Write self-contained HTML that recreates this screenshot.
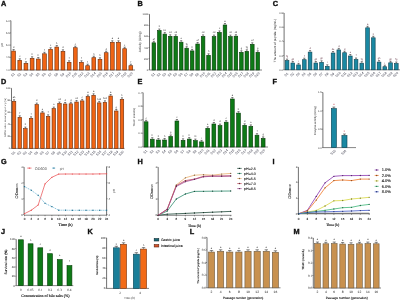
<!DOCTYPE html>
<html><head><meta charset="utf-8"><style>
html,body{margin:0;padding:0;background:#fff;width:400px;height:300px;overflow:hidden;}
svg{display:block;font-family:"Liberation Sans", sans-serif;will-change:transform;text-rendering:geometricPrecision;}
</style></head><body>
<svg width="400" height="300" viewBox="0 0 400 300">
<rect width="400" height="300" fill="#fff"/>
<text x="0.90" y="5.70" font-size="7.3" fill="#111" stroke="#111" stroke-width="0.35" font-weight="bold" font-family='"Liberation Sans", sans-serif'>A</text>
<line x1="10.90" y1="20.70" x2="10.90" y2="69.80" stroke="#333" stroke-width="0.7" />
<line x1="9.90" y1="20.70" x2="10.90" y2="20.70" stroke="#333" stroke-width="0.5" />
<text x="9.70" y="21.61" font-size="2.6" fill="#333" text-anchor="end">6.0</text>
<line x1="9.90" y1="32.90" x2="10.90" y2="32.90" stroke="#333" stroke-width="0.5" />
<text x="9.70" y="33.81" font-size="2.6" fill="#333" text-anchor="end">5.5</text>
<line x1="9.90" y1="45.10" x2="10.90" y2="45.10" stroke="#333" stroke-width="0.5" />
<text x="9.70" y="46.01" font-size="2.6" fill="#333" text-anchor="end">5.0</text>
<line x1="9.90" y1="57.30" x2="10.90" y2="57.30" stroke="#333" stroke-width="0.5" />
<text x="9.70" y="58.21" font-size="2.6" fill="#333" text-anchor="end">4.5</text>
<line x1="9.90" y1="69.80" x2="10.90" y2="69.80" stroke="#333" stroke-width="0.5" />
<text x="9.70" y="70.71" font-size="2.6" fill="#333" text-anchor="end">4.0</text>
<line x1="10.90" y1="70.00" x2="135.00" y2="70.00" stroke="#333" stroke-width="0.6" />
<rect x="11.70" y="51.05" width="3.80" height="18.95" fill="#F06414" stroke="#6B2A08" stroke-width="0.6"/>
<line x1="13.60" y1="49.55" x2="13.60" y2="50.75" stroke="#222" stroke-width="0.5" />
<line x1="12.50" y1="49.55" x2="14.70" y2="49.55" stroke="#222" stroke-width="0.55" />
<text x="13.60" y="47.85" font-size="2.4" fill="#222" text-anchor="middle">d</text>
<text x="13.70" y="75.60" font-size="3.4" fill="#3a3a4a" text-anchor="middle" transform="rotate(-45 13.70 75.60)">S1</text>
<rect x="17.87" y="60.30" width="3.80" height="9.70" fill="#F06414" stroke="#6B2A08" stroke-width="0.6"/>
<line x1="19.77" y1="58.80" x2="19.77" y2="60.00" stroke="#222" stroke-width="0.5" />
<line x1="18.67" y1="58.80" x2="20.87" y2="58.80" stroke="#222" stroke-width="0.55" />
<text x="19.77" y="57.10" font-size="2.4" fill="#222" text-anchor="middle">c</text>
<text x="19.87" y="75.60" font-size="3.4" fill="#3a3a4a" text-anchor="middle" transform="rotate(-45 19.87 75.60)">S2</text>
<rect x="24.04" y="63.30" width="3.80" height="6.70" fill="#F06414" stroke="#6B2A08" stroke-width="0.6"/>
<line x1="25.94" y1="61.80" x2="25.94" y2="63.00" stroke="#222" stroke-width="0.5" />
<line x1="24.84" y1="61.80" x2="27.04" y2="61.80" stroke="#222" stroke-width="0.55" />
<text x="25.94" y="60.10" font-size="2.4" fill="#222" text-anchor="middle">f</text>
<text x="26.04" y="75.60" font-size="3.4" fill="#3a3a4a" text-anchor="middle" transform="rotate(-45 26.04 75.60)">S3</text>
<rect x="30.21" y="58.30" width="3.80" height="11.70" fill="#F06414" stroke="#6B2A08" stroke-width="0.6"/>
<line x1="32.11" y1="56.80" x2="32.11" y2="58.00" stroke="#222" stroke-width="0.5" />
<line x1="31.01" y1="56.80" x2="33.21" y2="56.80" stroke="#222" stroke-width="0.55" />
<text x="32.11" y="55.10" font-size="2.4" fill="#222" text-anchor="middle">h</text>
<text x="32.21" y="75.60" font-size="3.4" fill="#3a3a4a" text-anchor="middle" transform="rotate(-45 32.21 75.60)">S4</text>
<rect x="36.38" y="59.05" width="3.80" height="10.95" fill="#F06414" stroke="#6B2A08" stroke-width="0.6"/>
<line x1="38.28" y1="57.55" x2="38.28" y2="58.75" stroke="#222" stroke-width="0.5" />
<line x1="37.18" y1="57.55" x2="39.38" y2="57.55" stroke="#222" stroke-width="0.55" />
<text x="38.28" y="55.85" font-size="2.4" fill="#222" text-anchor="middle">h</text>
<text x="38.38" y="75.60" font-size="3.4" fill="#3a3a4a" text-anchor="middle" transform="rotate(-45 38.38 75.60)">S5</text>
<rect x="42.55" y="53.80" width="3.80" height="16.20" fill="#F06414" stroke="#6B2A08" stroke-width="0.6"/>
<line x1="44.45" y1="52.30" x2="44.45" y2="53.50" stroke="#222" stroke-width="0.5" />
<line x1="43.35" y1="52.30" x2="45.55" y2="52.30" stroke="#222" stroke-width="0.55" />
<text x="44.45" y="50.60" font-size="2.4" fill="#222" text-anchor="middle">f</text>
<text x="44.55" y="75.60" font-size="3.4" fill="#3a3a4a" text-anchor="middle" transform="rotate(-45 44.55 75.60)">S6</text>
<rect x="48.72" y="49.30" width="3.80" height="20.70" fill="#F06414" stroke="#6B2A08" stroke-width="0.6"/>
<line x1="50.62" y1="47.80" x2="50.62" y2="49.00" stroke="#222" stroke-width="0.5" />
<line x1="49.52" y1="47.80" x2="51.72" y2="47.80" stroke="#222" stroke-width="0.55" />
<text x="50.62" y="46.10" font-size="2.4" fill="#222" text-anchor="middle">c</text>
<text x="50.72" y="75.60" font-size="3.4" fill="#3a3a4a" text-anchor="middle" transform="rotate(-45 50.72 75.60)">S7</text>
<rect x="54.89" y="47.05" width="3.80" height="22.95" fill="#F06414" stroke="#6B2A08" stroke-width="0.6"/>
<line x1="56.79" y1="45.55" x2="56.79" y2="46.75" stroke="#222" stroke-width="0.5" />
<line x1="55.69" y1="45.55" x2="57.89" y2="45.55" stroke="#222" stroke-width="0.55" />
<text x="56.79" y="43.85" font-size="2.4" fill="#222" text-anchor="middle">b</text>
<text x="56.89" y="75.60" font-size="3.4" fill="#3a3a4a" text-anchor="middle" transform="rotate(-45 56.89 75.60)">S8</text>
<rect x="61.06" y="51.30" width="3.80" height="18.70" fill="#F06414" stroke="#6B2A08" stroke-width="0.6"/>
<line x1="62.96" y1="49.80" x2="62.96" y2="51.00" stroke="#222" stroke-width="0.5" />
<line x1="61.86" y1="49.80" x2="64.06" y2="49.80" stroke="#222" stroke-width="0.55" />
<text x="62.96" y="48.10" font-size="2.4" fill="#222" text-anchor="middle">d</text>
<text x="63.06" y="75.60" font-size="3.4" fill="#3a3a4a" text-anchor="middle" transform="rotate(-45 63.06 75.60)">S9</text>
<rect x="67.23" y="62.30" width="3.80" height="7.70" fill="#F06414" stroke="#6B2A08" stroke-width="0.6"/>
<line x1="69.13" y1="60.80" x2="69.13" y2="62.00" stroke="#222" stroke-width="0.5" />
<line x1="68.03" y1="60.80" x2="70.23" y2="60.80" stroke="#222" stroke-width="0.55" />
<text x="69.13" y="59.10" font-size="2.4" fill="#222" text-anchor="middle">f</text>
<text x="69.23" y="75.60" font-size="3.4" fill="#3a3a4a" text-anchor="middle" transform="rotate(-45 69.23 75.60)">S10</text>
<rect x="73.40" y="47.70" width="3.80" height="22.30" fill="#F06414" stroke="#6B2A08" stroke-width="0.6"/>
<line x1="75.30" y1="46.20" x2="75.30" y2="47.40" stroke="#222" stroke-width="0.5" />
<line x1="74.20" y1="46.20" x2="76.40" y2="46.20" stroke="#222" stroke-width="0.55" />
<text x="75.30" y="44.50" font-size="2.4" fill="#222" text-anchor="middle">c</text>
<text x="75.40" y="75.60" font-size="3.4" fill="#3a3a4a" text-anchor="middle" transform="rotate(-45 75.40 75.60)">S11</text>
<rect x="79.57" y="62.30" width="3.80" height="7.70" fill="#F06414" stroke="#6B2A08" stroke-width="0.6"/>
<line x1="81.47" y1="60.80" x2="81.47" y2="62.00" stroke="#222" stroke-width="0.5" />
<line x1="80.37" y1="60.80" x2="82.57" y2="60.80" stroke="#222" stroke-width="0.55" />
<text x="81.47" y="59.10" font-size="2.4" fill="#222" text-anchor="middle">f</text>
<text x="81.57" y="75.60" font-size="3.4" fill="#3a3a4a" text-anchor="middle" transform="rotate(-45 81.57 75.60)">S12</text>
<rect x="85.74" y="65.70" width="3.80" height="4.30" fill="#F06414" stroke="#6B2A08" stroke-width="0.6"/>
<line x1="87.64" y1="64.20" x2="87.64" y2="65.40" stroke="#222" stroke-width="0.5" />
<line x1="86.54" y1="64.20" x2="88.74" y2="64.20" stroke="#222" stroke-width="0.55" />
<text x="87.64" y="62.50" font-size="2.4" fill="#222" text-anchor="middle">f</text>
<text x="87.74" y="75.60" font-size="3.4" fill="#3a3a4a" text-anchor="middle" transform="rotate(-45 87.74 75.60)">S13</text>
<rect x="91.91" y="57.70" width="3.80" height="12.30" fill="#F06414" stroke="#6B2A08" stroke-width="0.6"/>
<line x1="93.81" y1="56.20" x2="93.81" y2="57.40" stroke="#222" stroke-width="0.5" />
<line x1="92.71" y1="56.20" x2="94.91" y2="56.20" stroke="#222" stroke-width="0.55" />
<text x="93.81" y="54.50" font-size="2.4" fill="#222" text-anchor="middle">h</text>
<text x="93.91" y="75.60" font-size="3.4" fill="#3a3a4a" text-anchor="middle" transform="rotate(-45 93.91 75.60)">S14</text>
<rect x="98.08" y="59.30" width="3.80" height="10.70" fill="#F06414" stroke="#6B2A08" stroke-width="0.6"/>
<line x1="99.98" y1="57.80" x2="99.98" y2="59.00" stroke="#222" stroke-width="0.5" />
<line x1="98.88" y1="57.80" x2="101.08" y2="57.80" stroke="#222" stroke-width="0.55" />
<text x="99.98" y="56.10" font-size="2.4" fill="#222" text-anchor="middle">h</text>
<text x="100.08" y="75.60" font-size="3.4" fill="#3a3a4a" text-anchor="middle" transform="rotate(-45 100.08 75.60)">S15</text>
<rect x="104.25" y="52.70" width="3.80" height="17.30" fill="#F06414" stroke="#6B2A08" stroke-width="0.6"/>
<line x1="106.15" y1="51.20" x2="106.15" y2="52.40" stroke="#222" stroke-width="0.5" />
<line x1="105.05" y1="51.20" x2="107.25" y2="51.20" stroke="#222" stroke-width="0.55" />
<text x="106.15" y="49.50" font-size="2.4" fill="#222" text-anchor="middle">d</text>
<text x="106.25" y="75.60" font-size="3.4" fill="#3a3a4a" text-anchor="middle" transform="rotate(-45 106.25 75.60)">S16</text>
<rect x="110.42" y="42.30" width="3.80" height="27.70" fill="#F06414" stroke="#6B2A08" stroke-width="0.6"/>
<line x1="112.32" y1="40.80" x2="112.32" y2="42.00" stroke="#222" stroke-width="0.5" />
<line x1="111.22" y1="40.80" x2="113.42" y2="40.80" stroke="#222" stroke-width="0.55" />
<text x="112.32" y="39.10" font-size="2.4" fill="#222" text-anchor="middle">a</text>
<text x="112.42" y="75.60" font-size="3.4" fill="#3a3a4a" text-anchor="middle" transform="rotate(-45 112.42 75.60)">S17</text>
<rect x="116.59" y="42.30" width="3.80" height="27.70" fill="#F06414" stroke="#6B2A08" stroke-width="0.6"/>
<line x1="118.49" y1="40.80" x2="118.49" y2="42.00" stroke="#222" stroke-width="0.5" />
<line x1="117.39" y1="40.80" x2="119.59" y2="40.80" stroke="#222" stroke-width="0.55" />
<text x="118.49" y="39.10" font-size="2.4" fill="#222" text-anchor="middle">a</text>
<text x="118.59" y="75.60" font-size="3.4" fill="#3a3a4a" text-anchor="middle" transform="rotate(-45 118.59 75.60)">S18</text>
<rect x="122.76" y="48.70" width="3.80" height="21.30" fill="#F06414" stroke="#6B2A08" stroke-width="0.6"/>
<line x1="124.66" y1="47.20" x2="124.66" y2="48.40" stroke="#222" stroke-width="0.5" />
<line x1="123.56" y1="47.20" x2="125.76" y2="47.20" stroke="#222" stroke-width="0.55" />
<text x="124.66" y="45.50" font-size="2.4" fill="#222" text-anchor="middle">c</text>
<text x="124.76" y="75.60" font-size="3.4" fill="#3a3a4a" text-anchor="middle" transform="rotate(-45 124.76 75.60)">S19</text>
<rect x="128.93" y="65.70" width="3.80" height="4.30" fill="#F06414" stroke="#6B2A08" stroke-width="0.6"/>
<line x1="130.83" y1="64.20" x2="130.83" y2="65.40" stroke="#222" stroke-width="0.5" />
<line x1="129.73" y1="64.20" x2="131.93" y2="64.20" stroke="#222" stroke-width="0.55" />
<text x="130.83" y="62.50" font-size="2.4" fill="#222" text-anchor="middle">f</text>
<text x="130.93" y="75.60" font-size="3.4" fill="#3a3a4a" text-anchor="middle" transform="rotate(-45 130.93 75.60)">S20</text>
<text x="3.31" y="44.80" font-size="2.9" fill="#1a1a1a" text-anchor="middle" transform="rotate(-90 3.31 44.80)">pH</text>
<text x="137.50" y="5.70" font-size="7.3" fill="#111" stroke="#111" stroke-width="0.35" font-weight="bold" font-family='"Liberation Sans", sans-serif'>B</text>
<line x1="149.50" y1="14.30" x2="149.50" y2="69.80" stroke="#333" stroke-width="0.7" />
<line x1="148.50" y1="14.30" x2="149.50" y2="14.30" stroke="#333" stroke-width="0.5" />
<text x="148.30" y="15.21" font-size="2.6" fill="#333" text-anchor="end">1000</text>
<line x1="148.50" y1="25.40" x2="149.50" y2="25.40" stroke="#333" stroke-width="0.5" />
<text x="148.30" y="26.31" font-size="2.6" fill="#333" text-anchor="end">800</text>
<line x1="148.50" y1="36.50" x2="149.50" y2="36.50" stroke="#333" stroke-width="0.5" />
<text x="148.30" y="37.41" font-size="2.6" fill="#333" text-anchor="end">600</text>
<line x1="148.50" y1="47.60" x2="149.50" y2="47.60" stroke="#333" stroke-width="0.5" />
<text x="148.30" y="48.51" font-size="2.6" fill="#333" text-anchor="end">400</text>
<line x1="148.50" y1="58.70" x2="149.50" y2="58.70" stroke="#333" stroke-width="0.5" />
<text x="148.30" y="59.61" font-size="2.6" fill="#333" text-anchor="end">200</text>
<line x1="148.50" y1="69.80" x2="149.50" y2="69.80" stroke="#333" stroke-width="0.5" />
<text x="148.30" y="70.71" font-size="2.6" fill="#333" text-anchor="end">0</text>
<line x1="149.50" y1="70.00" x2="262.00" y2="70.00" stroke="#333" stroke-width="0.6" />
<rect x="152.05" y="42.80" width="3.60" height="27.20" fill="#0E7A16" stroke="#063A08" stroke-width="0.6"/>
<line x1="153.85" y1="41.30" x2="153.85" y2="42.50" stroke="#222" stroke-width="0.5" />
<line x1="152.80" y1="41.30" x2="154.90" y2="41.30" stroke="#222" stroke-width="0.55" />
<text x="153.85" y="39.60" font-size="2.4" fill="#222" text-anchor="middle">ef</text>
<text x="153.95" y="75.60" font-size="3.4" fill="#3a3a4a" text-anchor="middle" transform="rotate(-45 153.95 75.60)">S1</text>
<rect x="157.52" y="30.50" width="3.60" height="39.50" fill="#0E7A16" stroke="#063A08" stroke-width="0.6"/>
<line x1="159.32" y1="29.00" x2="159.32" y2="30.20" stroke="#222" stroke-width="0.5" />
<line x1="158.27" y1="29.00" x2="160.37" y2="29.00" stroke="#222" stroke-width="0.55" />
<text x="159.32" y="27.30" font-size="2.4" fill="#222" text-anchor="middle">b</text>
<text x="159.42" y="75.60" font-size="3.4" fill="#3a3a4a" text-anchor="middle" transform="rotate(-45 159.42 75.60)">S2</text>
<rect x="162.99" y="34.10" width="3.60" height="35.90" fill="#0E7A16" stroke="#063A08" stroke-width="0.6"/>
<line x1="164.79" y1="32.60" x2="164.79" y2="33.80" stroke="#222" stroke-width="0.5" />
<line x1="163.74" y1="32.60" x2="165.84" y2="32.60" stroke="#222" stroke-width="0.55" />
<text x="164.79" y="30.90" font-size="2.4" fill="#222" text-anchor="middle">bc</text>
<text x="164.89" y="75.60" font-size="3.4" fill="#3a3a4a" text-anchor="middle" transform="rotate(-45 164.89 75.60)">S3</text>
<rect x="168.46" y="36.30" width="3.60" height="33.70" fill="#0E7A16" stroke="#063A08" stroke-width="0.6"/>
<line x1="170.26" y1="34.80" x2="170.26" y2="36.00" stroke="#222" stroke-width="0.5" />
<line x1="169.21" y1="34.80" x2="171.31" y2="34.80" stroke="#222" stroke-width="0.55" />
<text x="170.26" y="33.10" font-size="2.4" fill="#222" text-anchor="middle">cd</text>
<text x="170.36" y="75.60" font-size="3.4" fill="#3a3a4a" text-anchor="middle" transform="rotate(-45 170.36 75.60)">S4</text>
<rect x="173.93" y="36.30" width="3.60" height="33.70" fill="#0E7A16" stroke="#063A08" stroke-width="0.6"/>
<line x1="175.73" y1="34.80" x2="175.73" y2="36.00" stroke="#222" stroke-width="0.5" />
<line x1="174.68" y1="34.80" x2="176.78" y2="34.80" stroke="#222" stroke-width="0.55" />
<text x="175.73" y="33.10" font-size="2.4" fill="#222" text-anchor="middle">cd</text>
<text x="175.83" y="75.60" font-size="3.4" fill="#3a3a4a" text-anchor="middle" transform="rotate(-45 175.83 75.60)">S5</text>
<rect x="179.40" y="42.20" width="3.60" height="27.80" fill="#0E7A16" stroke="#063A08" stroke-width="0.6"/>
<line x1="181.20" y1="40.70" x2="181.20" y2="41.90" stroke="#222" stroke-width="0.5" />
<line x1="180.15" y1="40.70" x2="182.25" y2="40.70" stroke="#222" stroke-width="0.55" />
<text x="181.20" y="39.00" font-size="2.4" fill="#222" text-anchor="middle">e</text>
<text x="181.30" y="75.60" font-size="3.4" fill="#3a3a4a" text-anchor="middle" transform="rotate(-45 181.30 75.60)">S6</text>
<rect x="184.87" y="48.20" width="3.60" height="21.80" fill="#0E7A16" stroke="#063A08" stroke-width="0.6"/>
<line x1="186.67" y1="46.70" x2="186.67" y2="47.90" stroke="#222" stroke-width="0.5" />
<line x1="185.62" y1="46.70" x2="187.72" y2="46.70" stroke="#222" stroke-width="0.55" />
<text x="186.67" y="45.00" font-size="2.4" fill="#222" text-anchor="middle">fg</text>
<text x="186.77" y="75.60" font-size="3.4" fill="#3a3a4a" text-anchor="middle" transform="rotate(-45 186.77 75.60)">S7</text>
<rect x="190.34" y="50.90" width="3.60" height="19.10" fill="#0E7A16" stroke="#063A08" stroke-width="0.6"/>
<line x1="192.14" y1="49.40" x2="192.14" y2="50.60" stroke="#222" stroke-width="0.5" />
<line x1="191.09" y1="49.40" x2="193.19" y2="49.40" stroke="#222" stroke-width="0.55" />
<text x="192.14" y="47.70" font-size="2.4" fill="#222" text-anchor="middle">h</text>
<text x="192.24" y="75.60" font-size="3.4" fill="#3a3a4a" text-anchor="middle" transform="rotate(-45 192.24 75.60)">S8</text>
<rect x="195.81" y="44.00" width="3.60" height="26.00" fill="#0E7A16" stroke="#063A08" stroke-width="0.6"/>
<line x1="197.61" y1="42.50" x2="197.61" y2="43.70" stroke="#222" stroke-width="0.5" />
<line x1="196.56" y1="42.50" x2="198.66" y2="42.50" stroke="#222" stroke-width="0.55" />
<text x="197.61" y="40.80" font-size="2.4" fill="#222" text-anchor="middle">ef</text>
<text x="197.71" y="75.60" font-size="3.4" fill="#3a3a4a" text-anchor="middle" transform="rotate(-45 197.71 75.60)">S9</text>
<rect x="201.28" y="36.40" width="3.60" height="33.60" fill="#0E7A16" stroke="#063A08" stroke-width="0.6"/>
<line x1="203.08" y1="34.90" x2="203.08" y2="36.10" stroke="#222" stroke-width="0.5" />
<line x1="202.03" y1="34.90" x2="204.13" y2="34.90" stroke="#222" stroke-width="0.55" />
<text x="203.08" y="33.20" font-size="2.4" fill="#222" text-anchor="middle">cd</text>
<text x="203.18" y="75.60" font-size="3.4" fill="#3a3a4a" text-anchor="middle" transform="rotate(-45 203.18 75.60)">S10</text>
<rect x="206.75" y="55.30" width="3.60" height="14.70" fill="#0E7A16" stroke="#063A08" stroke-width="0.6"/>
<line x1="208.55" y1="53.80" x2="208.55" y2="55.00" stroke="#222" stroke-width="0.5" />
<line x1="207.50" y1="53.80" x2="209.60" y2="53.80" stroke="#222" stroke-width="0.55" />
<text x="208.55" y="52.10" font-size="2.4" fill="#222" text-anchor="middle">h</text>
<text x="208.65" y="75.60" font-size="3.4" fill="#3a3a4a" text-anchor="middle" transform="rotate(-45 208.65 75.60)">S11</text>
<rect x="212.22" y="36.60" width="3.60" height="33.40" fill="#0E7A16" stroke="#063A08" stroke-width="0.6"/>
<line x1="214.02" y1="35.10" x2="214.02" y2="36.30" stroke="#222" stroke-width="0.5" />
<line x1="212.97" y1="35.10" x2="215.07" y2="35.10" stroke="#222" stroke-width="0.55" />
<text x="214.02" y="33.40" font-size="2.4" fill="#222" text-anchor="middle">cd</text>
<text x="214.12" y="75.60" font-size="3.4" fill="#3a3a4a" text-anchor="middle" transform="rotate(-45 214.12 75.60)">S12</text>
<rect x="217.69" y="32.40" width="3.60" height="37.60" fill="#0E7A16" stroke="#063A08" stroke-width="0.6"/>
<line x1="219.49" y1="30.90" x2="219.49" y2="32.10" stroke="#222" stroke-width="0.5" />
<line x1="218.44" y1="30.90" x2="220.54" y2="30.90" stroke="#222" stroke-width="0.55" />
<text x="219.49" y="29.20" font-size="2.4" fill="#222" text-anchor="middle">c</text>
<text x="219.59" y="75.60" font-size="3.4" fill="#3a3a4a" text-anchor="middle" transform="rotate(-45 219.59 75.60)">S13</text>
<rect x="223.16" y="25.00" width="3.60" height="45.00" fill="#0E7A16" stroke="#063A08" stroke-width="0.6"/>
<line x1="224.96" y1="23.50" x2="224.96" y2="24.70" stroke="#222" stroke-width="0.5" />
<line x1="223.91" y1="23.50" x2="226.01" y2="23.50" stroke="#222" stroke-width="0.55" />
<text x="224.96" y="21.80" font-size="2.4" fill="#222" text-anchor="middle">a</text>
<text x="225.06" y="75.60" font-size="3.4" fill="#3a3a4a" text-anchor="middle" transform="rotate(-45 225.06 75.60)">S14</text>
<rect x="228.63" y="36.60" width="3.60" height="33.40" fill="#0E7A16" stroke="#063A08" stroke-width="0.6"/>
<line x1="230.43" y1="35.10" x2="230.43" y2="36.30" stroke="#222" stroke-width="0.5" />
<line x1="229.38" y1="35.10" x2="231.48" y2="35.10" stroke="#222" stroke-width="0.55" />
<text x="230.43" y="33.40" font-size="2.4" fill="#222" text-anchor="middle">cd</text>
<text x="230.53" y="75.60" font-size="3.4" fill="#3a3a4a" text-anchor="middle" transform="rotate(-45 230.53 75.60)">S15</text>
<rect x="234.10" y="36.20" width="3.60" height="33.80" fill="#0E7A16" stroke="#063A08" stroke-width="0.6"/>
<line x1="235.90" y1="34.70" x2="235.90" y2="35.90" stroke="#222" stroke-width="0.5" />
<line x1="234.85" y1="34.70" x2="236.95" y2="34.70" stroke="#222" stroke-width="0.55" />
<text x="235.90" y="33.00" font-size="2.4" fill="#222" text-anchor="middle">cd</text>
<text x="236.00" y="75.60" font-size="3.4" fill="#3a3a4a" text-anchor="middle" transform="rotate(-45 236.00 75.60)">S16</text>
<rect x="239.57" y="52.30" width="3.60" height="17.70" fill="#0E7A16" stroke="#063A08" stroke-width="0.6"/>
<line x1="241.37" y1="50.80" x2="241.37" y2="52.00" stroke="#222" stroke-width="0.5" />
<line x1="240.32" y1="50.80" x2="242.42" y2="50.80" stroke="#222" stroke-width="0.55" />
<text x="241.37" y="49.10" font-size="2.4" fill="#222" text-anchor="middle">g</text>
<text x="241.47" y="75.60" font-size="3.4" fill="#3a3a4a" text-anchor="middle" transform="rotate(-45 241.47 75.60)">S17</text>
<rect x="245.04" y="51.30" width="3.60" height="18.70" fill="#0E7A16" stroke="#063A08" stroke-width="0.6"/>
<line x1="246.84" y1="49.80" x2="246.84" y2="51.00" stroke="#222" stroke-width="0.5" />
<line x1="245.79" y1="49.80" x2="247.89" y2="49.80" stroke="#222" stroke-width="0.55" />
<text x="246.84" y="48.10" font-size="2.4" fill="#222" text-anchor="middle">fg</text>
<text x="246.94" y="75.60" font-size="3.4" fill="#3a3a4a" text-anchor="middle" transform="rotate(-45 246.94 75.60)">S18</text>
<rect x="250.51" y="44.30" width="3.60" height="25.70" fill="#0E7A16" stroke="#063A08" stroke-width="0.6"/>
<line x1="252.31" y1="42.80" x2="252.31" y2="44.00" stroke="#222" stroke-width="0.5" />
<line x1="251.26" y1="42.80" x2="253.36" y2="42.80" stroke="#222" stroke-width="0.55" />
<text x="252.31" y="41.10" font-size="2.4" fill="#222" text-anchor="middle">ef</text>
<text x="252.41" y="75.60" font-size="3.4" fill="#3a3a4a" text-anchor="middle" transform="rotate(-45 252.41 75.60)">S19</text>
<rect x="255.98" y="52.30" width="3.60" height="17.70" fill="#0E7A16" stroke="#063A08" stroke-width="0.6"/>
<line x1="257.78" y1="50.80" x2="257.78" y2="52.00" stroke="#222" stroke-width="0.5" />
<line x1="256.73" y1="50.80" x2="258.83" y2="50.80" stroke="#222" stroke-width="0.55" />
<text x="257.78" y="49.10" font-size="2.4" fill="#222" text-anchor="middle">g</text>
<text x="257.88" y="75.60" font-size="3.4" fill="#3a3a4a" text-anchor="middle" transform="rotate(-45 257.88 75.60)">S20</text>
<text x="140.52" y="41.80" font-size="3.2" fill="#1a1a1a" text-anchor="middle" transform="rotate(-90 140.52 41.80)">Activity (U/mg)</text>
<text x="272.70" y="5.90" font-size="7.3" fill="#111" stroke="#111" stroke-width="0.35" font-weight="bold" font-family='"Liberation Sans", sans-serif'>C</text>
<line x1="284.10" y1="13.00" x2="284.10" y2="69.80" stroke="#333" stroke-width="0.7" />
<line x1="283.10" y1="13.00" x2="284.10" y2="13.00" stroke="#333" stroke-width="0.5" />
<text x="282.90" y="13.91" font-size="2.6" fill="#333" text-anchor="end">0.8</text>
<line x1="283.10" y1="27.20" x2="284.10" y2="27.20" stroke="#333" stroke-width="0.5" />
<text x="282.90" y="28.11" font-size="2.6" fill="#333" text-anchor="end">0.6</text>
<line x1="283.10" y1="41.40" x2="284.10" y2="41.40" stroke="#333" stroke-width="0.5" />
<text x="282.90" y="42.31" font-size="2.6" fill="#333" text-anchor="end">0.4</text>
<line x1="283.10" y1="55.60" x2="284.10" y2="55.60" stroke="#333" stroke-width="0.5" />
<text x="282.90" y="56.51" font-size="2.6" fill="#333" text-anchor="end">0.2</text>
<line x1="283.10" y1="69.80" x2="284.10" y2="69.80" stroke="#333" stroke-width="0.5" />
<text x="282.90" y="70.71" font-size="2.6" fill="#333" text-anchor="end">0.0</text>
<line x1="284.10" y1="69.80" x2="400.00" y2="69.80" stroke="#333" stroke-width="0.6" />
<rect x="285.20" y="60.60" width="3.70" height="9.20" fill="#1A88A2" stroke="#0A4250" stroke-width="0.6"/>
<line x1="287.05" y1="59.10" x2="287.05" y2="60.30" stroke="#222" stroke-width="0.5" />
<line x1="285.97" y1="59.10" x2="288.12" y2="59.10" stroke="#222" stroke-width="0.55" />
<text x="287.05" y="57.40" font-size="2.4" fill="#5A2A3A" text-anchor="middle">fg</text>
<text x="287.15" y="75.40" font-size="3.4" fill="#3a3a4a" text-anchor="middle" transform="rotate(-45 287.15 75.40)">S1</text>
<rect x="290.95" y="63.00" width="3.70" height="6.80" fill="#1A88A2" stroke="#0A4250" stroke-width="0.6"/>
<line x1="292.80" y1="61.50" x2="292.80" y2="62.70" stroke="#222" stroke-width="0.5" />
<line x1="291.72" y1="61.50" x2="293.87" y2="61.50" stroke="#222" stroke-width="0.55" />
<text x="292.80" y="59.80" font-size="2.4" fill="#5A2A3A" text-anchor="middle">gh</text>
<text x="292.90" y="75.40" font-size="3.4" fill="#3a3a4a" text-anchor="middle" transform="rotate(-45 292.90 75.40)">S2</text>
<rect x="296.70" y="64.90" width="3.70" height="4.90" fill="#1A88A2" stroke="#0A4250" stroke-width="0.6"/>
<line x1="298.55" y1="63.40" x2="298.55" y2="64.60" stroke="#222" stroke-width="0.5" />
<line x1="297.47" y1="63.40" x2="299.62" y2="63.40" stroke="#222" stroke-width="0.55" />
<text x="298.55" y="61.70" font-size="2.4" fill="#5A2A3A" text-anchor="middle">i</text>
<text x="298.65" y="75.40" font-size="3.4" fill="#3a3a4a" text-anchor="middle" transform="rotate(-45 298.65 75.40)">S3</text>
<rect x="302.45" y="59.70" width="3.70" height="10.10" fill="#1A88A2" stroke="#0A4250" stroke-width="0.6"/>
<line x1="304.30" y1="58.20" x2="304.30" y2="59.40" stroke="#222" stroke-width="0.5" />
<line x1="303.22" y1="58.20" x2="305.37" y2="58.20" stroke="#222" stroke-width="0.55" />
<text x="304.30" y="56.50" font-size="2.4" fill="#5A2A3A" text-anchor="middle">f</text>
<text x="304.40" y="75.40" font-size="3.4" fill="#3a3a4a" text-anchor="middle" transform="rotate(-45 304.40 75.40)">S4</text>
<rect x="308.20" y="52.10" width="3.70" height="17.70" fill="#1A88A2" stroke="#0A4250" stroke-width="0.6"/>
<line x1="310.05" y1="50.60" x2="310.05" y2="51.80" stroke="#222" stroke-width="0.5" />
<line x1="308.97" y1="50.60" x2="311.12" y2="50.60" stroke="#222" stroke-width="0.55" />
<text x="310.05" y="48.90" font-size="2.4" fill="#5A2A3A" text-anchor="middle">d</text>
<text x="310.15" y="75.40" font-size="3.4" fill="#3a3a4a" text-anchor="middle" transform="rotate(-45 310.15 75.40)">S5</text>
<rect x="313.95" y="63.00" width="3.70" height="6.80" fill="#1A88A2" stroke="#0A4250" stroke-width="0.6"/>
<line x1="315.80" y1="61.50" x2="315.80" y2="62.70" stroke="#222" stroke-width="0.5" />
<line x1="314.72" y1="61.50" x2="316.87" y2="61.50" stroke="#222" stroke-width="0.55" />
<text x="315.80" y="59.80" font-size="2.4" fill="#5A2A3A" text-anchor="middle">gh</text>
<text x="315.90" y="75.40" font-size="3.4" fill="#3a3a4a" text-anchor="middle" transform="rotate(-45 315.90 75.40)">S6</text>
<rect x="319.70" y="62.30" width="3.70" height="7.50" fill="#1A88A2" stroke="#0A4250" stroke-width="0.6"/>
<line x1="321.55" y1="60.80" x2="321.55" y2="62.00" stroke="#222" stroke-width="0.5" />
<line x1="320.47" y1="60.80" x2="322.62" y2="60.80" stroke="#222" stroke-width="0.55" />
<text x="321.55" y="59.10" font-size="2.4" fill="#5A2A3A" text-anchor="middle">gh</text>
<text x="321.65" y="75.40" font-size="3.4" fill="#3a3a4a" text-anchor="middle" transform="rotate(-45 321.65 75.40)">S7</text>
<rect x="325.45" y="66.30" width="3.70" height="3.50" fill="#1A88A2" stroke="#0A4250" stroke-width="0.6"/>
<line x1="327.30" y1="64.80" x2="327.30" y2="66.00" stroke="#222" stroke-width="0.5" />
<line x1="326.22" y1="64.80" x2="328.37" y2="64.80" stroke="#222" stroke-width="0.55" />
<text x="327.30" y="63.10" font-size="2.4" fill="#5A2A3A" text-anchor="middle">i</text>
<text x="327.40" y="75.40" font-size="3.4" fill="#3a3a4a" text-anchor="middle" transform="rotate(-45 327.40 75.40)">S8</text>
<rect x="331.20" y="53.00" width="3.70" height="16.80" fill="#1A88A2" stroke="#0A4250" stroke-width="0.6"/>
<line x1="333.05" y1="51.50" x2="333.05" y2="52.70" stroke="#222" stroke-width="0.5" />
<line x1="331.97" y1="51.50" x2="334.12" y2="51.50" stroke="#222" stroke-width="0.55" />
<text x="333.05" y="49.80" font-size="2.4" fill="#5A2A3A" text-anchor="middle">de</text>
<text x="333.15" y="75.40" font-size="3.4" fill="#3a3a4a" text-anchor="middle" transform="rotate(-45 333.15 75.40)">S9</text>
<rect x="336.95" y="49.90" width="3.70" height="19.90" fill="#1A88A2" stroke="#0A4250" stroke-width="0.6"/>
<line x1="338.80" y1="48.40" x2="338.80" y2="49.60" stroke="#222" stroke-width="0.5" />
<line x1="337.72" y1="48.40" x2="339.87" y2="48.40" stroke="#222" stroke-width="0.55" />
<text x="338.80" y="46.70" font-size="2.4" fill="#5A2A3A" text-anchor="middle">d</text>
<text x="338.90" y="75.40" font-size="3.4" fill="#3a3a4a" text-anchor="middle" transform="rotate(-45 338.90 75.40)">S10</text>
<rect x="342.70" y="52.70" width="3.70" height="17.10" fill="#1A88A2" stroke="#0A4250" stroke-width="0.6"/>
<line x1="344.55" y1="51.20" x2="344.55" y2="52.40" stroke="#222" stroke-width="0.5" />
<line x1="343.47" y1="51.20" x2="345.62" y2="51.20" stroke="#222" stroke-width="0.55" />
<text x="344.55" y="49.50" font-size="2.4" fill="#5A2A3A" text-anchor="middle">d</text>
<text x="344.65" y="75.40" font-size="3.4" fill="#3a3a4a" text-anchor="middle" transform="rotate(-45 344.65 75.40)">S11</text>
<rect x="348.45" y="56.00" width="3.70" height="13.80" fill="#1A88A2" stroke="#0A4250" stroke-width="0.6"/>
<line x1="350.30" y1="54.50" x2="350.30" y2="55.70" stroke="#222" stroke-width="0.5" />
<line x1="349.22" y1="54.50" x2="351.37" y2="54.50" stroke="#222" stroke-width="0.55" />
<text x="350.30" y="52.80" font-size="2.4" fill="#5A2A3A" text-anchor="middle">e</text>
<text x="350.40" y="75.40" font-size="3.4" fill="#3a3a4a" text-anchor="middle" transform="rotate(-45 350.40 75.40)">S12</text>
<rect x="354.20" y="59.50" width="3.70" height="10.30" fill="#1A88A2" stroke="#0A4250" stroke-width="0.6"/>
<line x1="356.05" y1="58.00" x2="356.05" y2="59.20" stroke="#222" stroke-width="0.5" />
<line x1="354.97" y1="58.00" x2="357.12" y2="58.00" stroke="#222" stroke-width="0.55" />
<text x="356.05" y="56.30" font-size="2.4" fill="#5A2A3A" text-anchor="middle">f</text>
<text x="356.15" y="75.40" font-size="3.4" fill="#3a3a4a" text-anchor="middle" transform="rotate(-45 356.15 75.40)">S13</text>
<rect x="359.95" y="63.20" width="3.70" height="6.60" fill="#1A88A2" stroke="#0A4250" stroke-width="0.6"/>
<line x1="361.80" y1="61.70" x2="361.80" y2="62.90" stroke="#222" stroke-width="0.5" />
<line x1="360.72" y1="61.70" x2="362.87" y2="61.70" stroke="#222" stroke-width="0.55" />
<text x="361.80" y="60.00" font-size="2.4" fill="#5A2A3A" text-anchor="middle">fg</text>
<text x="361.90" y="75.40" font-size="3.4" fill="#3a3a4a" text-anchor="middle" transform="rotate(-45 361.90 75.40)">S14</text>
<rect x="365.70" y="27.80" width="3.70" height="42.00" fill="#1A88A2" stroke="#0A4250" stroke-width="0.6"/>
<line x1="367.55" y1="26.30" x2="367.55" y2="27.50" stroke="#222" stroke-width="0.5" />
<line x1="366.47" y1="26.30" x2="368.62" y2="26.30" stroke="#222" stroke-width="0.55" />
<text x="367.55" y="24.60" font-size="2.4" fill="#5A2A3A" text-anchor="middle">a</text>
<text x="367.65" y="75.40" font-size="3.4" fill="#3a3a4a" text-anchor="middle" transform="rotate(-45 367.65 75.40)">S15</text>
<rect x="371.45" y="37.80" width="3.70" height="32.00" fill="#1A88A2" stroke="#0A4250" stroke-width="0.6"/>
<line x1="373.30" y1="36.30" x2="373.30" y2="37.50" stroke="#222" stroke-width="0.5" />
<line x1="372.22" y1="36.30" x2="374.37" y2="36.30" stroke="#222" stroke-width="0.55" />
<text x="373.30" y="34.60" font-size="2.4" fill="#5A2A3A" text-anchor="middle">b</text>
<text x="373.40" y="75.40" font-size="3.4" fill="#3a3a4a" text-anchor="middle" transform="rotate(-45 373.40 75.40)">S16</text>
<rect x="377.20" y="62.10" width="3.70" height="7.70" fill="#1A88A2" stroke="#0A4250" stroke-width="0.6"/>
<line x1="379.05" y1="60.60" x2="379.05" y2="61.80" stroke="#222" stroke-width="0.5" />
<line x1="377.97" y1="60.60" x2="380.12" y2="60.60" stroke="#222" stroke-width="0.55" />
<text x="379.05" y="58.90" font-size="2.4" fill="#5A2A3A" text-anchor="middle">gh</text>
<text x="379.15" y="75.40" font-size="3.4" fill="#3a3a4a" text-anchor="middle" transform="rotate(-45 379.15 75.40)">S17</text>
<rect x="382.95" y="66.70" width="3.70" height="3.10" fill="#1A88A2" stroke="#0A4250" stroke-width="0.6"/>
<line x1="384.80" y1="65.20" x2="384.80" y2="66.40" stroke="#222" stroke-width="0.5" />
<line x1="383.72" y1="65.20" x2="385.87" y2="65.20" stroke="#222" stroke-width="0.55" />
<text x="384.80" y="63.50" font-size="2.4" fill="#5A2A3A" text-anchor="middle">i</text>
<text x="384.90" y="75.40" font-size="3.4" fill="#3a3a4a" text-anchor="middle" transform="rotate(-45 384.90 75.40)">S18</text>
<rect x="388.70" y="62.80" width="3.70" height="7.00" fill="#1A88A2" stroke="#0A4250" stroke-width="0.6"/>
<line x1="390.55" y1="61.30" x2="390.55" y2="62.50" stroke="#222" stroke-width="0.5" />
<line x1="389.47" y1="61.30" x2="391.62" y2="61.30" stroke="#222" stroke-width="0.55" />
<text x="390.55" y="59.60" font-size="2.4" fill="#5A2A3A" text-anchor="middle">gh</text>
<text x="390.65" y="75.40" font-size="3.4" fill="#3a3a4a" text-anchor="middle" transform="rotate(-45 390.65 75.40)">S19</text>
<rect x="394.45" y="63.50" width="3.70" height="6.30" fill="#1A88A2" stroke="#0A4250" stroke-width="0.6"/>
<line x1="396.30" y1="62.00" x2="396.30" y2="63.20" stroke="#222" stroke-width="0.5" />
<line x1="395.22" y1="62.00" x2="397.37" y2="62.00" stroke="#222" stroke-width="0.55" />
<text x="396.30" y="60.30" font-size="2.4" fill="#5A2A3A" text-anchor="middle">fg</text>
<text x="396.40" y="75.40" font-size="3.4" fill="#3a3a4a" text-anchor="middle" transform="rotate(-45 396.40 75.40)">S20</text>
<text x="275.98" y="40.50" font-size="3.1" fill="#1a1a1a" text-anchor="middle" transform="rotate(-90 275.98 40.50)">The amount of peptide (mg/mL)</text>
<text x="0.90" y="83.90" font-size="7.3" fill="#111" stroke="#111" stroke-width="0.35" font-weight="bold" font-family='"Liberation Sans", sans-serif'>D</text>
<line x1="11.50" y1="88.30" x2="11.50" y2="148.50" stroke="#333" stroke-width="0.7" />
<line x1="10.50" y1="88.30" x2="11.50" y2="88.30" stroke="#333" stroke-width="0.5" />
<text x="10.30" y="89.21" font-size="2.6" fill="#333" text-anchor="end">100</text>
<line x1="10.50" y1="100.40" x2="11.50" y2="100.40" stroke="#333" stroke-width="0.5" />
<text x="10.30" y="101.31" font-size="2.6" fill="#333" text-anchor="end">80</text>
<line x1="10.50" y1="112.40" x2="11.50" y2="112.40" stroke="#333" stroke-width="0.5" />
<text x="10.30" y="113.31" font-size="2.6" fill="#333" text-anchor="end">60</text>
<line x1="10.50" y1="124.50" x2="11.50" y2="124.50" stroke="#333" stroke-width="0.5" />
<text x="10.30" y="125.41" font-size="2.6" fill="#333" text-anchor="end">40</text>
<line x1="10.50" y1="136.50" x2="11.50" y2="136.50" stroke="#333" stroke-width="0.5" />
<text x="10.30" y="137.41" font-size="2.6" fill="#333" text-anchor="end">20</text>
<line x1="10.50" y1="148.50" x2="11.50" y2="148.50" stroke="#333" stroke-width="0.5" />
<text x="10.30" y="149.41" font-size="2.6" fill="#333" text-anchor="end">0</text>
<line x1="11.50" y1="148.40" x2="124.50" y2="148.40" stroke="#333" stroke-width="0.6" />
<rect x="12.30" y="101.30" width="3.50" height="47.10" fill="#F06414" stroke="#6B2A08" stroke-width="0.6"/>
<line x1="14.05" y1="99.80" x2="14.05" y2="101.00" stroke="#222" stroke-width="0.5" />
<line x1="13.03" y1="99.80" x2="15.08" y2="99.80" stroke="#222" stroke-width="0.55" />
<text x="14.05" y="98.10" font-size="2.4" fill="#222" text-anchor="middle">ab</text>
<text x="14.15" y="154.00" font-size="3.4" fill="#3a3a4a" text-anchor="middle" transform="rotate(-45 14.15 154.00)">S1</text>
<rect x="17.98" y="117.30" width="3.50" height="31.10" fill="#F06414" stroke="#6B2A08" stroke-width="0.6"/>
<line x1="19.73" y1="115.80" x2="19.73" y2="117.00" stroke="#222" stroke-width="0.5" />
<line x1="18.71" y1="115.80" x2="20.75" y2="115.80" stroke="#222" stroke-width="0.55" />
<text x="19.73" y="114.10" font-size="2.4" fill="#222" text-anchor="middle">f</text>
<text x="19.83" y="154.00" font-size="3.4" fill="#3a3a4a" text-anchor="middle" transform="rotate(-45 19.83 154.00)">S2</text>
<rect x="23.66" y="128.60" width="3.50" height="19.80" fill="#F06414" stroke="#6B2A08" stroke-width="0.6"/>
<line x1="25.41" y1="127.10" x2="25.41" y2="128.30" stroke="#222" stroke-width="0.5" />
<line x1="24.39" y1="127.10" x2="26.43" y2="127.10" stroke="#222" stroke-width="0.55" />
<text x="25.41" y="125.40" font-size="2.4" fill="#222" text-anchor="middle">h</text>
<text x="25.51" y="154.00" font-size="3.4" fill="#3a3a4a" text-anchor="middle" transform="rotate(-45 25.51 154.00)">S3</text>
<rect x="29.34" y="118.30" width="3.50" height="30.10" fill="#F06414" stroke="#6B2A08" stroke-width="0.6"/>
<line x1="31.09" y1="116.80" x2="31.09" y2="118.00" stroke="#222" stroke-width="0.5" />
<line x1="30.07" y1="116.80" x2="32.12" y2="116.80" stroke="#222" stroke-width="0.55" />
<text x="31.09" y="115.10" font-size="2.4" fill="#222" text-anchor="middle">f</text>
<text x="31.19" y="154.00" font-size="3.4" fill="#3a3a4a" text-anchor="middle" transform="rotate(-45 31.19 154.00)">S4</text>
<rect x="35.02" y="104.60" width="3.50" height="43.80" fill="#F06414" stroke="#6B2A08" stroke-width="0.6"/>
<line x1="36.77" y1="103.10" x2="36.77" y2="104.30" stroke="#222" stroke-width="0.5" />
<line x1="35.74" y1="103.10" x2="37.79" y2="103.10" stroke="#222" stroke-width="0.55" />
<text x="36.77" y="101.40" font-size="2.4" fill="#222" text-anchor="middle">d</text>
<text x="36.87" y="154.00" font-size="3.4" fill="#3a3a4a" text-anchor="middle" transform="rotate(-45 36.87 154.00)">S5</text>
<rect x="40.70" y="112.90" width="3.50" height="35.50" fill="#F06414" stroke="#6B2A08" stroke-width="0.6"/>
<line x1="42.45" y1="111.40" x2="42.45" y2="112.60" stroke="#222" stroke-width="0.5" />
<line x1="41.42" y1="111.40" x2="43.47" y2="111.40" stroke="#222" stroke-width="0.55" />
<text x="42.45" y="109.70" font-size="2.4" fill="#222" text-anchor="middle">e</text>
<text x="42.55" y="154.00" font-size="3.4" fill="#3a3a4a" text-anchor="middle" transform="rotate(-45 42.55 154.00)">S6</text>
<rect x="46.38" y="116.30" width="3.50" height="32.10" fill="#F06414" stroke="#6B2A08" stroke-width="0.6"/>
<line x1="48.13" y1="114.80" x2="48.13" y2="116.00" stroke="#222" stroke-width="0.5" />
<line x1="47.10" y1="114.80" x2="49.15" y2="114.80" stroke="#222" stroke-width="0.55" />
<text x="48.13" y="113.10" font-size="2.4" fill="#222" text-anchor="middle">f</text>
<text x="48.23" y="154.00" font-size="3.4" fill="#3a3a4a" text-anchor="middle" transform="rotate(-45 48.23 154.00)">S7</text>
<rect x="52.06" y="108.60" width="3.50" height="39.80" fill="#F06414" stroke="#6B2A08" stroke-width="0.6"/>
<line x1="53.81" y1="107.10" x2="53.81" y2="108.30" stroke="#222" stroke-width="0.5" />
<line x1="52.78" y1="107.10" x2="54.83" y2="107.10" stroke="#222" stroke-width="0.55" />
<text x="53.81" y="105.40" font-size="2.4" fill="#222" text-anchor="middle">e</text>
<text x="53.91" y="154.00" font-size="3.4" fill="#3a3a4a" text-anchor="middle" transform="rotate(-45 53.91 154.00)">S8</text>
<rect x="57.74" y="103.50" width="3.50" height="44.90" fill="#F06414" stroke="#6B2A08" stroke-width="0.6"/>
<line x1="59.49" y1="102.00" x2="59.49" y2="103.20" stroke="#222" stroke-width="0.5" />
<line x1="58.46" y1="102.00" x2="60.51" y2="102.00" stroke="#222" stroke-width="0.55" />
<text x="59.49" y="100.30" font-size="2.4" fill="#222" text-anchor="middle">cd</text>
<text x="59.59" y="154.00" font-size="3.4" fill="#3a3a4a" text-anchor="middle" transform="rotate(-45 59.59 154.00)">S9</text>
<rect x="63.42" y="104.00" width="3.50" height="44.40" fill="#F06414" stroke="#6B2A08" stroke-width="0.6"/>
<line x1="65.17" y1="102.50" x2="65.17" y2="103.70" stroke="#222" stroke-width="0.5" />
<line x1="64.14" y1="102.50" x2="66.20" y2="102.50" stroke="#222" stroke-width="0.55" />
<text x="65.17" y="100.80" font-size="2.4" fill="#222" text-anchor="middle">d</text>
<text x="65.27" y="154.00" font-size="3.4" fill="#3a3a4a" text-anchor="middle" transform="rotate(-45 65.27 154.00)">S10</text>
<rect x="69.10" y="103.80" width="3.50" height="44.60" fill="#F06414" stroke="#6B2A08" stroke-width="0.6"/>
<line x1="70.85" y1="102.30" x2="70.85" y2="103.50" stroke="#222" stroke-width="0.5" />
<line x1="69.82" y1="102.30" x2="71.88" y2="102.30" stroke="#222" stroke-width="0.55" />
<text x="70.85" y="100.60" font-size="2.4" fill="#222" text-anchor="middle">d</text>
<text x="70.95" y="154.00" font-size="3.4" fill="#3a3a4a" text-anchor="middle" transform="rotate(-45 70.95 154.00)">S11</text>
<rect x="74.78" y="102.00" width="3.50" height="46.40" fill="#F06414" stroke="#6B2A08" stroke-width="0.6"/>
<line x1="76.53" y1="100.50" x2="76.53" y2="101.70" stroke="#222" stroke-width="0.5" />
<line x1="75.50" y1="100.50" x2="77.55" y2="100.50" stroke="#222" stroke-width="0.55" />
<text x="76.53" y="98.80" font-size="2.4" fill="#222" text-anchor="middle">cd</text>
<text x="76.63" y="154.00" font-size="3.4" fill="#3a3a4a" text-anchor="middle" transform="rotate(-45 76.63 154.00)">S12</text>
<rect x="80.46" y="100.90" width="3.50" height="47.50" fill="#F06414" stroke="#6B2A08" stroke-width="0.6"/>
<line x1="82.21" y1="99.40" x2="82.21" y2="100.60" stroke="#222" stroke-width="0.5" />
<line x1="81.18" y1="99.40" x2="83.23" y2="99.40" stroke="#222" stroke-width="0.55" />
<text x="82.21" y="97.70" font-size="2.4" fill="#222" text-anchor="middle">c</text>
<text x="82.31" y="154.00" font-size="3.4" fill="#3a3a4a" text-anchor="middle" transform="rotate(-45 82.31 154.00)">S13</text>
<rect x="86.14" y="96.50" width="3.50" height="51.90" fill="#F06414" stroke="#6B2A08" stroke-width="0.6"/>
<line x1="87.89" y1="95.00" x2="87.89" y2="96.20" stroke="#222" stroke-width="0.5" />
<line x1="86.86" y1="95.00" x2="88.92" y2="95.00" stroke="#222" stroke-width="0.55" />
<text x="87.89" y="93.30" font-size="2.4" fill="#222" text-anchor="middle">a</text>
<text x="87.99" y="154.00" font-size="3.4" fill="#3a3a4a" text-anchor="middle" transform="rotate(-45 87.99 154.00)">S14</text>
<rect x="91.82" y="95.30" width="3.50" height="53.10" fill="#F06414" stroke="#6B2A08" stroke-width="0.6"/>
<line x1="93.57" y1="93.80" x2="93.57" y2="95.00" stroke="#222" stroke-width="0.5" />
<line x1="92.54" y1="93.80" x2="94.59" y2="93.80" stroke="#222" stroke-width="0.55" />
<text x="93.57" y="92.10" font-size="2.4" fill="#222" text-anchor="middle">a</text>
<text x="93.67" y="154.00" font-size="3.4" fill="#3a3a4a" text-anchor="middle" transform="rotate(-45 93.67 154.00)">S15</text>
<rect x="97.50" y="102.90" width="3.50" height="45.50" fill="#F06414" stroke="#6B2A08" stroke-width="0.6"/>
<line x1="99.25" y1="101.40" x2="99.25" y2="102.60" stroke="#222" stroke-width="0.5" />
<line x1="98.22" y1="101.40" x2="100.27" y2="101.40" stroke="#222" stroke-width="0.55" />
<text x="99.25" y="99.70" font-size="2.4" fill="#222" text-anchor="middle">bcd</text>
<text x="99.35" y="154.00" font-size="3.4" fill="#3a3a4a" text-anchor="middle" transform="rotate(-45 99.35 154.00)">S16</text>
<rect x="103.18" y="102.30" width="3.50" height="46.10" fill="#F06414" stroke="#6B2A08" stroke-width="0.6"/>
<line x1="104.93" y1="100.80" x2="104.93" y2="102.00" stroke="#222" stroke-width="0.5" />
<line x1="103.90" y1="100.80" x2="105.95" y2="100.80" stroke="#222" stroke-width="0.55" />
<text x="104.93" y="99.10" font-size="2.4" fill="#222" text-anchor="middle">bcd</text>
<text x="105.03" y="154.00" font-size="3.4" fill="#3a3a4a" text-anchor="middle" transform="rotate(-45 105.03 154.00)">S17</text>
<rect x="108.86" y="96.00" width="3.50" height="52.40" fill="#F06414" stroke="#6B2A08" stroke-width="0.6"/>
<line x1="110.61" y1="94.50" x2="110.61" y2="95.70" stroke="#222" stroke-width="0.5" />
<line x1="109.58" y1="94.50" x2="111.64" y2="94.50" stroke="#222" stroke-width="0.55" />
<text x="110.61" y="92.80" font-size="2.4" fill="#222" text-anchor="middle">a</text>
<text x="110.71" y="154.00" font-size="3.4" fill="#3a3a4a" text-anchor="middle" transform="rotate(-45 110.71 154.00)">S18</text>
<rect x="114.54" y="111.00" width="3.50" height="37.40" fill="#F06414" stroke="#6B2A08" stroke-width="0.6"/>
<line x1="116.29" y1="109.50" x2="116.29" y2="110.70" stroke="#222" stroke-width="0.5" />
<line x1="115.26" y1="109.50" x2="117.31" y2="109.50" stroke="#222" stroke-width="0.55" />
<text x="116.29" y="107.80" font-size="2.4" fill="#222" text-anchor="middle">g</text>
<text x="116.39" y="154.00" font-size="3.4" fill="#3a3a4a" text-anchor="middle" transform="rotate(-45 116.39 154.00)">S19</text>
<rect x="120.22" y="99.30" width="3.50" height="49.10" fill="#F06414" stroke="#6B2A08" stroke-width="0.6"/>
<line x1="121.97" y1="97.80" x2="121.97" y2="99.00" stroke="#222" stroke-width="0.5" />
<line x1="120.94" y1="97.80" x2="122.99" y2="97.80" stroke="#222" stroke-width="0.55" />
<text x="121.97" y="96.10" font-size="2.4" fill="#222" text-anchor="middle">b</text>
<text x="122.07" y="154.00" font-size="3.4" fill="#3a3a4a" text-anchor="middle" transform="rotate(-45 122.07 154.00)">S20</text>
<text x="5.62" y="117.50" font-size="2.35" fill="#1a1a1a" text-anchor="middle" transform="rotate(-90 5.62 117.50)">DPPH radical scavenging activity (%)</text>
<text x="137.50" y="84.10" font-size="7.3" fill="#111" stroke="#111" stroke-width="0.35" font-weight="bold" font-family='"Liberation Sans", sans-serif'>E</text>
<line x1="143.10" y1="92.70" x2="143.10" y2="146.90" stroke="#333" stroke-width="0.7" />
<line x1="142.10" y1="92.70" x2="143.10" y2="92.70" stroke="#333" stroke-width="0.5" />
<text x="141.90" y="93.61" font-size="2.6" fill="#333" text-anchor="end">0.4</text>
<line x1="142.10" y1="106.20" x2="143.10" y2="106.20" stroke="#333" stroke-width="0.5" />
<text x="141.90" y="107.11" font-size="2.6" fill="#333" text-anchor="end">0.3</text>
<line x1="142.10" y1="119.70" x2="143.10" y2="119.70" stroke="#333" stroke-width="0.5" />
<text x="141.90" y="120.61" font-size="2.6" fill="#333" text-anchor="end">0.2</text>
<line x1="142.10" y1="133.20" x2="143.10" y2="133.20" stroke="#333" stroke-width="0.5" />
<text x="141.90" y="134.11" font-size="2.6" fill="#333" text-anchor="end">0.1</text>
<line x1="142.10" y1="146.90" x2="143.10" y2="146.90" stroke="#333" stroke-width="0.5" />
<text x="141.90" y="147.81" font-size="2.6" fill="#333" text-anchor="end">0.0</text>
<line x1="143.10" y1="147.00" x2="268.00" y2="147.00" stroke="#333" stroke-width="0.6" />
<rect x="144.20" y="121.80" width="3.80" height="25.20" fill="#0E7A16" stroke="#063A08" stroke-width="0.6"/>
<line x1="146.10" y1="120.30" x2="146.10" y2="121.50" stroke="#222" stroke-width="0.5" />
<line x1="145.00" y1="120.30" x2="147.20" y2="120.30" stroke="#222" stroke-width="0.55" />
<text x="146.10" y="118.60" font-size="2.4" fill="#222" text-anchor="middle">c</text>
<text x="146.20" y="152.60" font-size="3.4" fill="#3a3a4a" text-anchor="middle" transform="rotate(-45 146.20 152.60)">S1</text>
<rect x="150.36" y="139.20" width="3.80" height="7.80" fill="#0E7A16" stroke="#063A08" stroke-width="0.6"/>
<line x1="152.26" y1="137.70" x2="152.26" y2="138.90" stroke="#222" stroke-width="0.5" />
<line x1="151.16" y1="137.70" x2="153.36" y2="137.70" stroke="#222" stroke-width="0.55" />
<text x="152.26" y="136.00" font-size="2.4" fill="#222" text-anchor="middle">h</text>
<text x="152.36" y="152.60" font-size="3.4" fill="#3a3a4a" text-anchor="middle" transform="rotate(-45 152.36 152.60)">S2</text>
<rect x="156.52" y="140.00" width="3.80" height="7.00" fill="#0E7A16" stroke="#063A08" stroke-width="0.6"/>
<line x1="158.42" y1="138.50" x2="158.42" y2="139.70" stroke="#222" stroke-width="0.5" />
<line x1="157.32" y1="138.50" x2="159.52" y2="138.50" stroke="#222" stroke-width="0.55" />
<text x="158.42" y="136.80" font-size="2.4" fill="#222" text-anchor="middle">h</text>
<text x="158.52" y="152.60" font-size="3.4" fill="#3a3a4a" text-anchor="middle" transform="rotate(-45 158.52 152.60)">S3</text>
<rect x="162.68" y="140.00" width="3.80" height="7.00" fill="#0E7A16" stroke="#063A08" stroke-width="0.6"/>
<line x1="164.58" y1="138.50" x2="164.58" y2="139.70" stroke="#222" stroke-width="0.5" />
<line x1="163.48" y1="138.50" x2="165.68" y2="138.50" stroke="#222" stroke-width="0.55" />
<text x="164.58" y="136.80" font-size="2.4" fill="#222" text-anchor="middle">h</text>
<text x="164.68" y="152.60" font-size="3.4" fill="#3a3a4a" text-anchor="middle" transform="rotate(-45 164.68 152.60)">S4</text>
<rect x="168.84" y="136.50" width="3.80" height="10.50" fill="#0E7A16" stroke="#063A08" stroke-width="0.6"/>
<line x1="170.74" y1="135.00" x2="170.74" y2="136.20" stroke="#222" stroke-width="0.5" />
<line x1="169.64" y1="135.00" x2="171.84" y2="135.00" stroke="#222" stroke-width="0.55" />
<text x="170.74" y="133.30" font-size="2.4" fill="#222" text-anchor="middle">g</text>
<text x="170.84" y="152.60" font-size="3.4" fill="#3a3a4a" text-anchor="middle" transform="rotate(-45 170.84 152.60)">S5</text>
<rect x="175.00" y="121.00" width="3.80" height="26.00" fill="#0E7A16" stroke="#063A08" stroke-width="0.6"/>
<line x1="176.90" y1="119.50" x2="176.90" y2="120.70" stroke="#222" stroke-width="0.5" />
<line x1="175.80" y1="119.50" x2="178.00" y2="119.50" stroke="#222" stroke-width="0.55" />
<text x="176.90" y="117.80" font-size="2.4" fill="#222" text-anchor="middle">c</text>
<text x="177.00" y="152.60" font-size="3.4" fill="#3a3a4a" text-anchor="middle" transform="rotate(-45 177.00 152.60)">S6</text>
<rect x="181.16" y="140.30" width="3.80" height="6.70" fill="#0E7A16" stroke="#063A08" stroke-width="0.6"/>
<line x1="183.06" y1="138.80" x2="183.06" y2="140.00" stroke="#222" stroke-width="0.5" />
<line x1="181.96" y1="138.80" x2="184.16" y2="138.80" stroke="#222" stroke-width="0.55" />
<text x="183.06" y="137.10" font-size="2.4" fill="#222" text-anchor="middle">h</text>
<text x="183.16" y="152.60" font-size="3.4" fill="#3a3a4a" text-anchor="middle" transform="rotate(-45 183.16 152.60)">S7</text>
<rect x="187.32" y="139.10" width="3.80" height="7.90" fill="#0E7A16" stroke="#063A08" stroke-width="0.6"/>
<line x1="189.22" y1="137.60" x2="189.22" y2="138.80" stroke="#222" stroke-width="0.5" />
<line x1="188.12" y1="137.60" x2="190.32" y2="137.60" stroke="#222" stroke-width="0.55" />
<text x="189.22" y="135.90" font-size="2.4" fill="#222" text-anchor="middle">h</text>
<text x="189.32" y="152.60" font-size="3.4" fill="#3a3a4a" text-anchor="middle" transform="rotate(-45 189.32 152.60)">S8</text>
<rect x="193.48" y="140.60" width="3.80" height="6.40" fill="#0E7A16" stroke="#063A08" stroke-width="0.6"/>
<line x1="195.38" y1="139.10" x2="195.38" y2="140.30" stroke="#222" stroke-width="0.5" />
<line x1="194.28" y1="139.10" x2="196.48" y2="139.10" stroke="#222" stroke-width="0.55" />
<text x="195.38" y="137.40" font-size="2.4" fill="#222" text-anchor="middle">hi</text>
<text x="195.48" y="152.60" font-size="3.4" fill="#3a3a4a" text-anchor="middle" transform="rotate(-45 195.48 152.60)">S9</text>
<rect x="199.64" y="141.90" width="3.80" height="5.10" fill="#0E7A16" stroke="#063A08" stroke-width="0.6"/>
<line x1="201.54" y1="140.40" x2="201.54" y2="141.60" stroke="#222" stroke-width="0.5" />
<line x1="200.44" y1="140.40" x2="202.64" y2="140.40" stroke="#222" stroke-width="0.55" />
<text x="201.54" y="138.70" font-size="2.4" fill="#222" text-anchor="middle">i</text>
<text x="201.64" y="152.60" font-size="3.4" fill="#3a3a4a" text-anchor="middle" transform="rotate(-45 201.64 152.60)">S10</text>
<rect x="205.80" y="128.30" width="3.80" height="18.70" fill="#0E7A16" stroke="#063A08" stroke-width="0.6"/>
<line x1="207.70" y1="126.80" x2="207.70" y2="128.00" stroke="#222" stroke-width="0.5" />
<line x1="206.60" y1="126.80" x2="208.80" y2="126.80" stroke="#222" stroke-width="0.55" />
<text x="207.70" y="125.10" font-size="2.4" fill="#222" text-anchor="middle">e</text>
<text x="207.80" y="152.60" font-size="3.4" fill="#3a3a4a" text-anchor="middle" transform="rotate(-45 207.80 152.60)">S11</text>
<rect x="211.96" y="124.00" width="3.80" height="23.00" fill="#0E7A16" stroke="#063A08" stroke-width="0.6"/>
<line x1="213.86" y1="122.50" x2="213.86" y2="123.70" stroke="#222" stroke-width="0.5" />
<line x1="212.76" y1="122.50" x2="214.96" y2="122.50" stroke="#222" stroke-width="0.55" />
<text x="213.86" y="120.80" font-size="2.4" fill="#222" text-anchor="middle">d</text>
<text x="213.96" y="152.60" font-size="3.4" fill="#3a3a4a" text-anchor="middle" transform="rotate(-45 213.96 152.60)">S12</text>
<rect x="218.12" y="125.60" width="3.80" height="21.40" fill="#0E7A16" stroke="#063A08" stroke-width="0.6"/>
<line x1="220.02" y1="124.10" x2="220.02" y2="125.30" stroke="#222" stroke-width="0.5" />
<line x1="218.92" y1="124.10" x2="221.12" y2="124.10" stroke="#222" stroke-width="0.55" />
<text x="220.02" y="122.40" font-size="2.4" fill="#222" text-anchor="middle">d</text>
<text x="220.12" y="152.60" font-size="3.4" fill="#3a3a4a" text-anchor="middle" transform="rotate(-45 220.12 152.60)">S13</text>
<rect x="224.28" y="122.20" width="3.80" height="24.80" fill="#0E7A16" stroke="#063A08" stroke-width="0.6"/>
<line x1="226.18" y1="120.70" x2="226.18" y2="121.90" stroke="#222" stroke-width="0.5" />
<line x1="225.08" y1="120.70" x2="227.28" y2="120.70" stroke="#222" stroke-width="0.55" />
<text x="226.18" y="119.00" font-size="2.4" fill="#222" text-anchor="middle">c</text>
<text x="226.28" y="152.60" font-size="3.4" fill="#3a3a4a" text-anchor="middle" transform="rotate(-45 226.28 152.60)">S14</text>
<rect x="230.44" y="99.00" width="3.80" height="48.00" fill="#0E7A16" stroke="#063A08" stroke-width="0.6"/>
<line x1="232.34" y1="97.50" x2="232.34" y2="98.70" stroke="#222" stroke-width="0.5" />
<line x1="231.24" y1="97.50" x2="233.44" y2="97.50" stroke="#222" stroke-width="0.55" />
<text x="232.34" y="95.80" font-size="2.4" fill="#222" text-anchor="middle">a</text>
<text x="232.44" y="152.60" font-size="3.4" fill="#3a3a4a" text-anchor="middle" transform="rotate(-45 232.44 152.60)">S15</text>
<rect x="236.60" y="113.10" width="3.80" height="33.90" fill="#0E7A16" stroke="#063A08" stroke-width="0.6"/>
<line x1="238.50" y1="111.60" x2="238.50" y2="112.80" stroke="#222" stroke-width="0.5" />
<line x1="237.40" y1="111.60" x2="239.60" y2="111.60" stroke="#222" stroke-width="0.55" />
<text x="238.50" y="109.90" font-size="2.4" fill="#222" text-anchor="middle">b</text>
<text x="238.60" y="152.60" font-size="3.4" fill="#3a3a4a" text-anchor="middle" transform="rotate(-45 238.60 152.60)">S16</text>
<rect x="242.76" y="125.30" width="3.80" height="21.70" fill="#0E7A16" stroke="#063A08" stroke-width="0.6"/>
<line x1="244.66" y1="123.80" x2="244.66" y2="125.00" stroke="#222" stroke-width="0.5" />
<line x1="243.56" y1="123.80" x2="245.76" y2="123.80" stroke="#222" stroke-width="0.55" />
<text x="244.66" y="122.10" font-size="2.4" fill="#222" text-anchor="middle">d</text>
<text x="244.76" y="152.60" font-size="3.4" fill="#3a3a4a" text-anchor="middle" transform="rotate(-45 244.76 152.60)">S17</text>
<rect x="248.92" y="126.40" width="3.80" height="20.60" fill="#0E7A16" stroke="#063A08" stroke-width="0.6"/>
<line x1="250.82" y1="124.90" x2="250.82" y2="126.10" stroke="#222" stroke-width="0.5" />
<line x1="249.72" y1="124.90" x2="251.92" y2="124.90" stroke="#222" stroke-width="0.55" />
<text x="250.82" y="123.20" font-size="2.4" fill="#222" text-anchor="middle">e</text>
<text x="250.92" y="152.60" font-size="3.4" fill="#3a3a4a" text-anchor="middle" transform="rotate(-45 250.92 152.60)">S18</text>
<rect x="255.08" y="135.20" width="3.80" height="11.80" fill="#0E7A16" stroke="#063A08" stroke-width="0.6"/>
<line x1="256.98" y1="133.70" x2="256.98" y2="134.90" stroke="#222" stroke-width="0.5" />
<line x1="255.88" y1="133.70" x2="258.08" y2="133.70" stroke="#222" stroke-width="0.55" />
<text x="256.98" y="132.00" font-size="2.4" fill="#222" text-anchor="middle">f</text>
<text x="257.08" y="152.60" font-size="3.4" fill="#3a3a4a" text-anchor="middle" transform="rotate(-45 257.08 152.60)">S19</text>
<rect x="261.24" y="138.40" width="3.80" height="8.60" fill="#0E7A16" stroke="#063A08" stroke-width="0.6"/>
<line x1="263.14" y1="136.90" x2="263.14" y2="138.10" stroke="#222" stroke-width="0.5" />
<line x1="262.04" y1="136.90" x2="264.24" y2="136.90" stroke="#222" stroke-width="0.55" />
<text x="263.14" y="135.20" font-size="2.4" fill="#222" text-anchor="middle">g</text>
<text x="263.24" y="152.60" font-size="3.4" fill="#3a3a4a" text-anchor="middle" transform="rotate(-45 263.24 152.60)">S20</text>
<text x="135.44" y="117.00" font-size="2.7" fill="#1a1a1a" text-anchor="middle" transform="rotate(-90 135.44 117.00)">TEAC (mmol/L)</text>
<text x="272.50" y="84.30" font-size="7.3" fill="#111" stroke="#111" stroke-width="0.35" font-weight="bold" font-family='"Liberation Sans", sans-serif'>F</text>
<line x1="322.90" y1="92.50" x2="322.90" y2="147.60" stroke="#333" stroke-width="0.7" />
<line x1="321.90" y1="92.50" x2="322.90" y2="92.50" stroke="#333" stroke-width="0.5" />
<text x="321.70" y="93.41" font-size="2.6" fill="#333" text-anchor="end">1.5</text>
<line x1="321.90" y1="110.80" x2="322.90" y2="110.80" stroke="#333" stroke-width="0.5" />
<text x="321.70" y="111.71" font-size="2.6" fill="#333" text-anchor="end">1.0</text>
<line x1="321.90" y1="129.20" x2="322.90" y2="129.20" stroke="#333" stroke-width="0.5" />
<text x="321.70" y="130.11" font-size="2.6" fill="#333" text-anchor="end">0.5</text>
<line x1="321.90" y1="147.60" x2="322.90" y2="147.60" stroke="#333" stroke-width="0.5" />
<text x="321.70" y="148.51" font-size="2.6" fill="#333" text-anchor="end">0.0</text>
<line x1="322.90" y1="147.60" x2="356.00" y2="147.60" stroke="#333" stroke-width="0.6" />
<rect x="331.30" y="108.60" width="5.10" height="39.00" fill="#1A88A2" stroke="#0A4250" stroke-width="0.6"/>
<line x1="333.85" y1="107.10" x2="333.85" y2="108.30" stroke="#222" stroke-width="0.5" />
<line x1="332.43" y1="107.10" x2="335.28" y2="107.10" stroke="#222" stroke-width="0.55" />
<text x="333.85" y="105.40" font-size="2.4" fill="#C03040" text-anchor="middle">a</text>
<text x="333.95" y="153.20" font-size="3.4" fill="#3a3a4a" text-anchor="middle" transform="rotate(-45 333.95 153.20)">S15</text>
<rect x="341.90" y="135.50" width="5.10" height="12.10" fill="#1A88A2" stroke="#0A4250" stroke-width="0.6"/>
<line x1="344.45" y1="134.00" x2="344.45" y2="135.20" stroke="#222" stroke-width="0.5" />
<line x1="343.03" y1="134.00" x2="345.88" y2="134.00" stroke="#222" stroke-width="0.55" />
<text x="344.45" y="132.30" font-size="2.4" fill="#C03040" text-anchor="middle">b</text>
<text x="344.55" y="153.20" font-size="3.4" fill="#3a3a4a" text-anchor="middle" transform="rotate(-45 344.55 153.20)">S16</text>
<text x="316.20" y="120.50" font-size="2.8" fill="#1a1a1a" text-anchor="middle" transform="rotate(-90 316.20 120.50)">Enzyme activity (U/mg)</text>
<text x="1.00" y="164.20" font-size="7.3" fill="#111" stroke="#111" stroke-width="0.35" font-weight="bold" font-family='"Liberation Sans", sans-serif'>G</text>
<line x1="24.10" y1="167.10" x2="24.10" y2="214.60" stroke="#333" stroke-width="0.7" />
<line x1="23.10" y1="167.10" x2="24.10" y2="167.10" stroke="#333" stroke-width="0.5" />
<text x="22.90" y="168.08" font-size="2.8" fill="#333" text-anchor="end">3</text>
<line x1="23.10" y1="182.90" x2="24.10" y2="182.90" stroke="#333" stroke-width="0.5" />
<text x="22.90" y="183.88" font-size="2.8" fill="#333" text-anchor="end">2</text>
<line x1="23.10" y1="198.80" x2="24.10" y2="198.80" stroke="#333" stroke-width="0.5" />
<text x="22.90" y="199.78" font-size="2.8" fill="#333" text-anchor="end">1</text>
<line x1="23.10" y1="214.60" x2="24.10" y2="214.60" stroke="#333" stroke-width="0.5" />
<text x="22.90" y="215.58" font-size="2.8" fill="#333" text-anchor="end">0</text>
<line x1="24.10" y1="215.20" x2="106.60" y2="215.20" stroke="#333" stroke-width="0.6" />
<line x1="106.60" y1="166.50" x2="106.60" y2="215.20" stroke="#333" stroke-width="0.7" />
<line x1="106.60" y1="166.80" x2="107.60" y2="166.80" stroke="#333" stroke-width="0.5" />
<text x="108.60" y="167.80" font-size="2.8" fill="#1a1a1a">8</text>
<line x1="106.60" y1="182.80" x2="107.60" y2="182.80" stroke="#333" stroke-width="0.5" />
<text x="108.60" y="183.80" font-size="2.8" fill="#1a1a1a">6</text>
<line x1="106.60" y1="198.80" x2="107.60" y2="198.80" stroke="#333" stroke-width="0.5" />
<text x="108.60" y="199.80" font-size="2.8" fill="#1a1a1a">4</text>
<line x1="106.60" y1="214.60" x2="107.60" y2="214.60" stroke="#333" stroke-width="0.5" />
<text x="108.60" y="215.60" font-size="2.8" fill="#1a1a1a">2</text>
<text x="115.30" y="191.00" font-size="3" fill="#1a1a1a" text-anchor="middle" transform="rotate(-90 115.30 191.00)">pH</text>
<line x1="24.50" y1="215.20" x2="24.50" y2="216.20" stroke="#333" stroke-width="0.5" />
<text x="24.50" y="220.40" font-size="3.0" fill="#111" text-anchor="middle" stroke="#111" stroke-width="0.08">0</text>
<line x1="31.34" y1="215.20" x2="31.34" y2="216.20" stroke="#333" stroke-width="0.5" />
<text x="31.34" y="220.40" font-size="3.0" fill="#111" text-anchor="middle" stroke="#111" stroke-width="0.08">2</text>
<line x1="38.18" y1="215.20" x2="38.18" y2="216.20" stroke="#333" stroke-width="0.5" />
<text x="38.18" y="220.40" font-size="3.0" fill="#111" text-anchor="middle" stroke="#111" stroke-width="0.08">4</text>
<line x1="45.02" y1="215.20" x2="45.02" y2="216.20" stroke="#333" stroke-width="0.5" />
<text x="45.02" y="220.40" font-size="3.0" fill="#111" text-anchor="middle" stroke="#111" stroke-width="0.08">6</text>
<line x1="51.86" y1="215.20" x2="51.86" y2="216.20" stroke="#333" stroke-width="0.5" />
<text x="51.86" y="220.40" font-size="3.0" fill="#111" text-anchor="middle" stroke="#111" stroke-width="0.08">8</text>
<line x1="58.70" y1="215.20" x2="58.70" y2="216.20" stroke="#333" stroke-width="0.5" />
<text x="58.70" y="220.40" font-size="3.0" fill="#111" text-anchor="middle" stroke="#111" stroke-width="0.08">10</text>
<line x1="65.54" y1="215.20" x2="65.54" y2="216.20" stroke="#333" stroke-width="0.5" />
<text x="65.54" y="220.40" font-size="3.0" fill="#111" text-anchor="middle" stroke="#111" stroke-width="0.08">12</text>
<line x1="72.38" y1="215.20" x2="72.38" y2="216.20" stroke="#333" stroke-width="0.5" />
<text x="72.38" y="220.40" font-size="3.0" fill="#111" text-anchor="middle" stroke="#111" stroke-width="0.08">14</text>
<line x1="79.22" y1="215.20" x2="79.22" y2="216.20" stroke="#333" stroke-width="0.5" />
<text x="79.22" y="220.40" font-size="3.0" fill="#111" text-anchor="middle" stroke="#111" stroke-width="0.08">16</text>
<line x1="86.06" y1="215.20" x2="86.06" y2="216.20" stroke="#333" stroke-width="0.5" />
<text x="86.06" y="220.40" font-size="3.0" fill="#111" text-anchor="middle" stroke="#111" stroke-width="0.08">18</text>
<line x1="92.90" y1="215.20" x2="92.90" y2="216.20" stroke="#333" stroke-width="0.5" />
<text x="92.90" y="220.40" font-size="3.0" fill="#111" text-anchor="middle" stroke="#111" stroke-width="0.08">20</text>
<line x1="99.74" y1="215.20" x2="99.74" y2="216.20" stroke="#333" stroke-width="0.5" />
<text x="99.74" y="220.40" font-size="3.0" fill="#111" text-anchor="middle" stroke="#111" stroke-width="0.08">22</text>
<line x1="106.58" y1="215.20" x2="106.58" y2="216.20" stroke="#333" stroke-width="0.5" />
<text x="106.58" y="220.40" font-size="3.0" fill="#111" text-anchor="middle" stroke="#111" stroke-width="0.08">24</text>
<text x="65.60" y="226.10" font-size="4.0" fill="#111" text-anchor="middle" font-family='"Liberation Serif", serif' stroke="#111" stroke-width="0.12">Time (h)</text>
<text x="17.85" y="191.00" font-size="4.0" fill="#1a1a1a" text-anchor="middle" stroke="#1a1a1a" stroke-width="0.08" transform="rotate(-90 17.85 191.00)">OD<tspan font-size="2.9">600nm</tspan></text>
<polyline points="24.50,213.70 31.34,210.20 38.18,205.00 45.02,183.80 51.86,177.30 58.70,174.10 65.54,174.00 72.38,174.00 79.22,174.00 86.06,174.00 92.90,174.00 99.74,173.90 106.58,173.80" fill="none" stroke="#E8474A" stroke-width="0.7"/>
<circle cx="24.50" cy="213.70" r="0.6" fill="#E8474A"/>
<circle cx="31.34" cy="210.20" r="0.6" fill="#E8474A"/>
<circle cx="38.18" cy="205.00" r="0.6" fill="#E8474A"/>
<circle cx="45.02" cy="183.80" r="0.6" fill="#E8474A"/>
<circle cx="51.86" cy="177.30" r="0.6" fill="#E8474A"/>
<circle cx="58.70" cy="174.10" r="0.6" fill="#E8474A"/>
<circle cx="65.54" cy="174.00" r="0.6" fill="#E8474A"/>
<circle cx="72.38" cy="174.00" r="0.6" fill="#E8474A"/>
<circle cx="79.22" cy="174.00" r="0.6" fill="#E8474A"/>
<circle cx="86.06" cy="174.00" r="0.6" fill="#E8474A"/>
<circle cx="92.90" cy="174.00" r="0.6" fill="#E8474A"/>
<circle cx="99.74" cy="173.90" r="0.6" fill="#E8474A"/>
<circle cx="106.58" cy="173.80" r="0.6" fill="#E8474A"/>
<polyline points="24.50,186.60 31.34,190.30 38.18,195.30 45.02,203.30 51.86,206.60 58.70,210.20 65.54,210.20 72.38,210.30 79.22,210.30 86.06,210.30 92.90,210.30 99.74,210.30 106.58,210.30" fill="none" stroke="#3A9CC8" stroke-width="0.6" stroke-dasharray="1.2 0.8"/>
<rect x="23.90" y="186.00" width="1.2" height="1.2" fill="#1F6F8F"/>
<rect x="30.74" y="189.70" width="1.2" height="1.2" fill="#1F6F8F"/>
<rect x="37.58" y="194.70" width="1.2" height="1.2" fill="#1F6F8F"/>
<rect x="44.42" y="202.70" width="1.2" height="1.2" fill="#1F6F8F"/>
<rect x="51.26" y="206.00" width="1.2" height="1.2" fill="#1F6F8F"/>
<rect x="58.10" y="209.60" width="1.2" height="1.2" fill="#1F6F8F"/>
<rect x="64.94" y="209.60" width="1.2" height="1.2" fill="#1F6F8F"/>
<rect x="71.78" y="209.70" width="1.2" height="1.2" fill="#1F6F8F"/>
<rect x="78.62" y="209.70" width="1.2" height="1.2" fill="#1F6F8F"/>
<rect x="85.46" y="209.70" width="1.2" height="1.2" fill="#1F6F8F"/>
<rect x="92.30" y="209.70" width="1.2" height="1.2" fill="#1F6F8F"/>
<rect x="99.14" y="209.70" width="1.2" height="1.2" fill="#1F6F8F"/>
<rect x="105.98" y="209.70" width="1.2" height="1.2" fill="#1F6F8F"/>
<line x1="27.30" y1="168.10" x2="31.50" y2="168.10" stroke="#E8474A" stroke-width="0.7" />
<circle cx="29.4" cy="168.1" r="0.6" fill="#E8474A"/>
<text x="34.80" y="169.50" font-size="3.8" fill="#555">OD600</text>
<line x1="52.00" y1="168.10" x2="55.60" y2="168.10" stroke="#3A9CC8" stroke-width="0.6" stroke-dasharray="1.2 0.8"/>
<rect x="53.2" y="167.5" width="1.2" height="1.2" fill="#1F6F8F"/>
<text x="59.80" y="169.50" font-size="3.2" fill="#555">pH</text>
<text x="137.50" y="164.20" font-size="7.3" fill="#111" stroke="#111" stroke-width="0.35" font-weight="bold" font-family='"Liberation Sans", sans-serif'>H</text>
<line x1="158.20" y1="167.20" x2="158.20" y2="215.30" stroke="#333" stroke-width="0.7" />
<line x1="157.20" y1="167.20" x2="158.20" y2="167.20" stroke="#333" stroke-width="0.5" />
<text x="157.00" y="168.18" font-size="2.8" fill="#333" text-anchor="end">3</text>
<line x1="157.20" y1="182.80" x2="158.20" y2="182.80" stroke="#333" stroke-width="0.5" />
<text x="157.00" y="183.78" font-size="2.8" fill="#333" text-anchor="end">2</text>
<line x1="157.20" y1="199.00" x2="158.20" y2="199.00" stroke="#333" stroke-width="0.5" />
<text x="157.00" y="199.98" font-size="2.8" fill="#333" text-anchor="end">1</text>
<line x1="157.20" y1="215.30" x2="158.20" y2="215.30" stroke="#333" stroke-width="0.5" />
<text x="157.00" y="216.28" font-size="2.8" fill="#333" text-anchor="end">0</text>
<line x1="158.20" y1="215.30" x2="231.50" y2="215.30" stroke="#333" stroke-width="0.6" />
<line x1="158.20" y1="215.30" x2="158.20" y2="216.30" stroke="#333" stroke-width="0.5" />
<text x="158.20" y="220.40" font-size="3.0" fill="#111" text-anchor="middle" stroke="#111" stroke-width="0.08">0</text>
<line x1="167.26" y1="215.30" x2="167.26" y2="216.30" stroke="#333" stroke-width="0.5" />
<text x="167.26" y="220.40" font-size="3.0" fill="#111" text-anchor="middle" stroke="#111" stroke-width="0.08">3</text>
<line x1="176.32" y1="215.30" x2="176.32" y2="216.30" stroke="#333" stroke-width="0.5" />
<text x="176.32" y="220.40" font-size="3.0" fill="#111" text-anchor="middle" stroke="#111" stroke-width="0.08">6</text>
<line x1="185.38" y1="215.30" x2="185.38" y2="216.30" stroke="#333" stroke-width="0.5" />
<text x="185.38" y="220.40" font-size="3.0" fill="#111" text-anchor="middle" stroke="#111" stroke-width="0.08">9</text>
<line x1="194.44" y1="215.30" x2="194.44" y2="216.30" stroke="#333" stroke-width="0.5" />
<text x="194.44" y="220.40" font-size="3.0" fill="#111" text-anchor="middle" stroke="#111" stroke-width="0.08">12</text>
<line x1="203.50" y1="215.30" x2="203.50" y2="216.30" stroke="#333" stroke-width="0.5" />
<text x="203.50" y="220.40" font-size="3.0" fill="#111" text-anchor="middle" stroke="#111" stroke-width="0.08">15</text>
<line x1="212.56" y1="215.30" x2="212.56" y2="216.30" stroke="#333" stroke-width="0.5" />
<text x="212.56" y="220.40" font-size="3.0" fill="#111" text-anchor="middle" stroke="#111" stroke-width="0.08">18</text>
<line x1="221.62" y1="215.30" x2="221.62" y2="216.30" stroke="#333" stroke-width="0.5" />
<text x="221.62" y="220.40" font-size="3.0" fill="#111" text-anchor="middle" stroke="#111" stroke-width="0.08">21</text>
<line x1="230.68" y1="215.30" x2="230.68" y2="216.30" stroke="#333" stroke-width="0.5" />
<text x="230.68" y="220.40" font-size="3.0" fill="#111" text-anchor="middle" stroke="#111" stroke-width="0.08">24</text>
<text x="194.50" y="226.60" font-size="3.75" fill="#111" text-anchor="middle" font-family='"Liberation Serif", serif' stroke="#111" stroke-width="0.12">Time (h)</text>
<text x="152.95" y="191.50" font-size="4.0" fill="#1a1a1a" text-anchor="middle" stroke="#1a1a1a" stroke-width="0.08" transform="rotate(-90 152.95 191.50)">OD<tspan font-size="2.9">600nm</tspan></text>
<polyline points="158.20,215.30 167.26,214.20 176.32,213.80 185.38,213.40 194.44,213.00 203.50,212.60 212.56,212.20 221.62,211.80 230.68,211.40" fill="none" stroke="#1F4A3A" stroke-width="0.8"/>
<circle cx="158.20" cy="215.30" r="0.65" fill="#11281F"/>
<circle cx="167.26" cy="214.20" r="0.65" fill="#11281F"/>
<circle cx="176.32" cy="213.80" r="0.65" fill="#11281F"/>
<circle cx="185.38" cy="213.40" r="0.65" fill="#11281F"/>
<circle cx="194.44" cy="213.00" r="0.65" fill="#11281F"/>
<circle cx="203.50" cy="212.60" r="0.65" fill="#11281F"/>
<circle cx="212.56" cy="212.20" r="0.65" fill="#11281F"/>
<circle cx="221.62" cy="211.80" r="0.65" fill="#11281F"/>
<circle cx="230.68" cy="211.40" r="0.65" fill="#11281F"/>
<polyline points="158.20,215.30 167.26,211.00 176.32,199.00 185.38,194.00 194.44,191.40 203.50,191.30 212.56,191.20 221.62,191.10 230.68,191.00" fill="none" stroke="#2E8B6E" stroke-width="0.8"/>
<circle cx="158.20" cy="215.30" r="0.65" fill="#194C3C"/>
<circle cx="167.26" cy="211.00" r="0.65" fill="#194C3C"/>
<circle cx="176.32" cy="199.00" r="0.65" fill="#194C3C"/>
<circle cx="185.38" cy="194.00" r="0.65" fill="#194C3C"/>
<circle cx="194.44" cy="191.40" r="0.65" fill="#194C3C"/>
<circle cx="203.50" cy="191.30" r="0.65" fill="#194C3C"/>
<circle cx="212.56" cy="191.20" r="0.65" fill="#194C3C"/>
<circle cx="221.62" cy="191.10" r="0.65" fill="#194C3C"/>
<circle cx="230.68" cy="191.00" r="0.65" fill="#194C3C"/>
<polyline points="158.20,215.30 167.26,209.40 176.32,184.90 185.38,177.80 194.44,175.20 203.50,174.70 212.56,175.20 221.62,174.10 230.68,173.40" fill="none" stroke="#E8B070" stroke-width="0.8"/>
<circle cx="158.20" cy="215.30" r="0.65" fill="#7F603D"/>
<circle cx="167.26" cy="209.40" r="0.65" fill="#7F603D"/>
<circle cx="176.32" cy="184.90" r="0.65" fill="#7F603D"/>
<circle cx="185.38" cy="177.80" r="0.65" fill="#7F603D"/>
<circle cx="194.44" cy="175.20" r="0.65" fill="#7F603D"/>
<circle cx="203.50" cy="174.70" r="0.65" fill="#7F603D"/>
<circle cx="212.56" cy="175.20" r="0.65" fill="#7F603D"/>
<circle cx="221.62" cy="174.10" r="0.65" fill="#7F603D"/>
<circle cx="230.68" cy="173.40" r="0.65" fill="#7F603D"/>
<polyline points="158.20,215.30 167.26,209.20 176.32,185.60 185.38,180.60 194.44,179.10 203.50,176.30 212.56,176.00 221.62,176.00 230.68,175.80" fill="none" stroke="#C04A5A" stroke-width="0.8"/>
<circle cx="158.20" cy="215.30" r="0.65" fill="#692831"/>
<circle cx="167.26" cy="209.20" r="0.65" fill="#692831"/>
<circle cx="176.32" cy="185.60" r="0.65" fill="#692831"/>
<circle cx="185.38" cy="180.60" r="0.65" fill="#692831"/>
<circle cx="194.44" cy="179.10" r="0.65" fill="#692831"/>
<circle cx="203.50" cy="176.30" r="0.65" fill="#692831"/>
<circle cx="212.56" cy="176.00" r="0.65" fill="#692831"/>
<circle cx="221.62" cy="176.00" r="0.65" fill="#692831"/>
<circle cx="230.68" cy="175.80" r="0.65" fill="#692831"/>
<polyline points="158.20,215.30 167.26,209.30 176.32,186.40 185.38,181.70 194.44,179.40 203.50,176.80 212.56,176.20 221.62,176.30 230.68,176.10" fill="none" stroke="#A04A90" stroke-width="0.8"/>
<circle cx="158.20" cy="215.30" r="0.65" fill="#58284F"/>
<circle cx="167.26" cy="209.30" r="0.65" fill="#58284F"/>
<circle cx="176.32" cy="186.40" r="0.65" fill="#58284F"/>
<circle cx="185.38" cy="181.70" r="0.65" fill="#58284F"/>
<circle cx="194.44" cy="179.40" r="0.65" fill="#58284F"/>
<circle cx="203.50" cy="176.80" r="0.65" fill="#58284F"/>
<circle cx="212.56" cy="176.20" r="0.65" fill="#58284F"/>
<circle cx="221.62" cy="176.30" r="0.65" fill="#58284F"/>
<circle cx="230.68" cy="176.10" r="0.65" fill="#58284F"/>
<line x1="237.20" y1="168.40" x2="241.70" y2="168.40" stroke="#1F4A3A" stroke-width="0.7" />
<circle cx="239.45" cy="168.40" r="0.7" fill="#11281F"/>
<text x="244.10" y="169.65" font-size="3.6" fill="#222" stroke="#222" stroke-width="0.1">pH=2.5</text>
<line x1="237.20" y1="173.45" x2="241.70" y2="173.45" stroke="#2E8B6E" stroke-width="0.7" />
<circle cx="239.45" cy="173.45" r="0.7" fill="#194C3C"/>
<text x="244.10" y="174.70" font-size="3.6" fill="#222" stroke="#222" stroke-width="0.1">pH=4.0</text>
<line x1="237.20" y1="178.50" x2="241.70" y2="178.50" stroke="#E8B070" stroke-width="0.7" />
<circle cx="239.45" cy="178.50" r="0.7" fill="#7F603D"/>
<text x="244.10" y="179.75" font-size="3.6" fill="#222" stroke="#222" stroke-width="0.1">pH=5.5</text>
<line x1="237.20" y1="183.55" x2="241.70" y2="183.55" stroke="#C04A5A" stroke-width="0.7" />
<circle cx="239.45" cy="183.55" r="0.7" fill="#692831"/>
<text x="244.10" y="184.80" font-size="3.6" fill="#222" stroke="#222" stroke-width="0.1">pH=7.0</text>
<line x1="237.20" y1="188.60" x2="241.70" y2="188.60" stroke="#A04A90" stroke-width="0.7" />
<circle cx="239.45" cy="188.60" r="0.7" fill="#58284F"/>
<text x="244.10" y="189.85" font-size="3.6" fill="#222" stroke="#222" stroke-width="0.1">pH=8.5</text>
<text x="272.50" y="164.20" font-size="7.3" fill="#111" stroke="#111" stroke-width="0.35" font-weight="bold" font-family='"Liberation Sans", sans-serif'>I</text>
<line x1="298.40" y1="167.20" x2="298.40" y2="213.80" stroke="#333" stroke-width="0.7" />
<line x1="297.40" y1="167.20" x2="298.40" y2="167.20" stroke="#333" stroke-width="0.5" />
<text x="297.20" y="168.18" font-size="2.8" fill="#333" text-anchor="end">3</text>
<line x1="297.40" y1="182.30" x2="298.40" y2="182.30" stroke="#333" stroke-width="0.5" />
<text x="297.20" y="183.28" font-size="2.8" fill="#333" text-anchor="end">2</text>
<line x1="297.40" y1="198.40" x2="298.40" y2="198.40" stroke="#333" stroke-width="0.5" />
<text x="297.20" y="199.38" font-size="2.8" fill="#333" text-anchor="end">1</text>
<line x1="297.40" y1="213.80" x2="298.40" y2="213.80" stroke="#333" stroke-width="0.5" />
<text x="297.20" y="214.78" font-size="2.8" fill="#333" text-anchor="end">0</text>
<line x1="298.40" y1="213.80" x2="370.00" y2="213.80" stroke="#333" stroke-width="0.6" />
<line x1="298.60" y1="213.80" x2="298.60" y2="214.80" stroke="#333" stroke-width="0.5" />
<text x="298.60" y="219.80" font-size="3.0" fill="#111" text-anchor="middle" stroke="#111" stroke-width="0.08">0</text>
<line x1="307.42" y1="213.80" x2="307.42" y2="214.80" stroke="#333" stroke-width="0.5" />
<text x="307.42" y="219.80" font-size="3.0" fill="#111" text-anchor="middle" stroke="#111" stroke-width="0.08">3</text>
<line x1="316.24" y1="213.80" x2="316.24" y2="214.80" stroke="#333" stroke-width="0.5" />
<text x="316.24" y="219.80" font-size="3.0" fill="#111" text-anchor="middle" stroke="#111" stroke-width="0.08">6</text>
<line x1="325.06" y1="213.80" x2="325.06" y2="214.80" stroke="#333" stroke-width="0.5" />
<text x="325.06" y="219.80" font-size="3.0" fill="#111" text-anchor="middle" stroke="#111" stroke-width="0.08">9</text>
<line x1="333.88" y1="213.80" x2="333.88" y2="214.80" stroke="#333" stroke-width="0.5" />
<text x="333.88" y="219.80" font-size="3.0" fill="#111" text-anchor="middle" stroke="#111" stroke-width="0.08">12</text>
<line x1="342.70" y1="213.80" x2="342.70" y2="214.80" stroke="#333" stroke-width="0.5" />
<text x="342.70" y="219.80" font-size="3.0" fill="#111" text-anchor="middle" stroke="#111" stroke-width="0.08">15</text>
<line x1="351.52" y1="213.80" x2="351.52" y2="214.80" stroke="#333" stroke-width="0.5" />
<text x="351.52" y="219.80" font-size="3.0" fill="#111" text-anchor="middle" stroke="#111" stroke-width="0.08">18</text>
<line x1="360.34" y1="213.80" x2="360.34" y2="214.80" stroke="#333" stroke-width="0.5" />
<text x="360.34" y="219.80" font-size="3.0" fill="#111" text-anchor="middle" stroke="#111" stroke-width="0.08">21</text>
<line x1="369.16" y1="213.80" x2="369.16" y2="214.80" stroke="#333" stroke-width="0.5" />
<text x="369.16" y="219.80" font-size="3.0" fill="#111" text-anchor="middle" stroke="#111" stroke-width="0.08">24</text>
<text x="332.70" y="226.30" font-size="3.75" fill="#111" text-anchor="middle" font-family='"Liberation Serif", serif' stroke="#111" stroke-width="0.12">Time (h)</text>
<text x="290.65" y="191.20" font-size="4.0" fill="#1a1a1a" text-anchor="middle" stroke="#1a1a1a" stroke-width="0.08" transform="rotate(-90 290.65 191.20)">OD<tspan font-size="2.9">600nm</tspan></text>
<polyline points="298.6,213.4 369.2,213.2" fill="none" stroke="#333" stroke-width="0.6"/>
<polyline points="298.60,213.80 307.42,210.30 316.24,196.40 325.06,182.80 333.88,176.30 342.70,175.60 351.52,175.60 360.34,175.50 369.16,175.40" fill="none" stroke="#8A35B0" stroke-width="0.8"/>
<circle cx="298.60" cy="213.80" r="0.65" fill="#4B1D60"/>
<circle cx="307.42" cy="210.30" r="0.65" fill="#4B1D60"/>
<circle cx="316.24" cy="196.40" r="0.65" fill="#4B1D60"/>
<circle cx="325.06" cy="182.80" r="0.65" fill="#4B1D60"/>
<circle cx="333.88" cy="176.30" r="0.65" fill="#4B1D60"/>
<circle cx="342.70" cy="175.60" r="0.65" fill="#4B1D60"/>
<circle cx="351.52" cy="175.60" r="0.65" fill="#4B1D60"/>
<circle cx="360.34" cy="175.50" r="0.65" fill="#4B1D60"/>
<circle cx="369.16" cy="175.40" r="0.65" fill="#4B1D60"/>
<polyline points="298.60,213.80 307.42,211.00 316.24,200.10 325.06,187.80 333.88,180.60 342.70,180.00 351.52,180.60 360.34,179.10 369.16,179.10" fill="none" stroke="#F07828" stroke-width="0.8"/>
<circle cx="298.60" cy="213.80" r="0.65" fill="#844216"/>
<circle cx="307.42" cy="211.00" r="0.65" fill="#844216"/>
<circle cx="316.24" cy="200.10" r="0.65" fill="#844216"/>
<circle cx="325.06" cy="187.80" r="0.65" fill="#844216"/>
<circle cx="333.88" cy="180.60" r="0.65" fill="#844216"/>
<circle cx="342.70" cy="180.00" r="0.65" fill="#844216"/>
<circle cx="351.52" cy="180.60" r="0.65" fill="#844216"/>
<circle cx="360.34" cy="179.10" r="0.65" fill="#844216"/>
<circle cx="369.16" cy="179.10" r="0.65" fill="#844216"/>
<polyline points="298.60,213.80 307.42,212.00 316.24,210.50 325.06,206.00 333.88,200.80 342.70,200.50 351.52,199.00 360.34,198.20 369.16,197.30" fill="none" stroke="#D8D840" stroke-width="0.8"/>
<circle cx="298.60" cy="213.80" r="0.65" fill="#767623"/>
<circle cx="307.42" cy="212.00" r="0.65" fill="#767623"/>
<circle cx="316.24" cy="210.50" r="0.65" fill="#767623"/>
<circle cx="325.06" cy="206.00" r="0.65" fill="#767623"/>
<circle cx="333.88" cy="200.80" r="0.65" fill="#767623"/>
<circle cx="342.70" cy="200.50" r="0.65" fill="#767623"/>
<circle cx="351.52" cy="199.00" r="0.65" fill="#767623"/>
<circle cx="360.34" cy="198.20" r="0.65" fill="#767623"/>
<circle cx="369.16" cy="197.30" r="0.65" fill="#767623"/>
<polyline points="298.60,213.80 307.42,212.70 316.24,211.40 325.06,210.30 333.88,209.00 342.70,207.70 351.52,207.30 360.34,205.50 369.16,204.40" fill="none" stroke="#3CB878" stroke-width="0.8"/>
<circle cx="298.60" cy="213.80" r="0.65" fill="#216542"/>
<circle cx="307.42" cy="212.70" r="0.65" fill="#216542"/>
<circle cx="316.24" cy="211.40" r="0.65" fill="#216542"/>
<circle cx="325.06" cy="210.30" r="0.65" fill="#216542"/>
<circle cx="333.88" cy="209.00" r="0.65" fill="#216542"/>
<circle cx="342.70" cy="207.70" r="0.65" fill="#216542"/>
<circle cx="351.52" cy="207.30" r="0.65" fill="#216542"/>
<circle cx="360.34" cy="205.50" r="0.65" fill="#216542"/>
<circle cx="369.16" cy="204.40" r="0.65" fill="#216542"/>
<polyline points="298.60,213.80 307.42,212.30 316.24,212.00 325.06,211.80 333.88,211.60 342.70,211.30 351.52,211.00 360.34,210.60 369.16,210.30" fill="none" stroke="#4058C8" stroke-width="0.8"/>
<circle cx="298.60" cy="213.80" r="0.65" fill="#23306E"/>
<circle cx="307.42" cy="212.30" r="0.65" fill="#23306E"/>
<circle cx="316.24" cy="212.00" r="0.65" fill="#23306E"/>
<circle cx="325.06" cy="211.80" r="0.65" fill="#23306E"/>
<circle cx="333.88" cy="211.60" r="0.65" fill="#23306E"/>
<circle cx="342.70" cy="211.30" r="0.65" fill="#23306E"/>
<circle cx="351.52" cy="211.00" r="0.65" fill="#23306E"/>
<circle cx="360.34" cy="210.60" r="0.65" fill="#23306E"/>
<circle cx="369.16" cy="210.30" r="0.65" fill="#23306E"/>
<line x1="374.70" y1="170.00" x2="378.70" y2="170.00" stroke="#8A35B0" stroke-width="0.7" />
<circle cx="376.7" cy="170.00" r="0.7" fill="#4B1D60"/>
<text x="381.70" y="171.30" font-size="4.0" fill="#222" stroke="#222" stroke-width="0.12">1.0%</text>
<line x1="374.70" y1="175.45" x2="378.70" y2="175.45" stroke="#F07828" stroke-width="0.7" />
<circle cx="376.7" cy="175.45" r="0.7" fill="#844216"/>
<text x="381.70" y="176.75" font-size="4.0" fill="#222" stroke="#222" stroke-width="0.12">2.0%</text>
<line x1="374.70" y1="180.90" x2="378.70" y2="180.90" stroke="#D8D840" stroke-width="0.7" />
<circle cx="376.7" cy="180.90" r="0.7" fill="#767623"/>
<text x="381.70" y="182.20" font-size="4.0" fill="#222" stroke="#222" stroke-width="0.12">4.0%</text>
<line x1="374.70" y1="186.35" x2="378.70" y2="186.35" stroke="#3CB878" stroke-width="0.7" />
<circle cx="376.7" cy="186.35" r="0.7" fill="#216542"/>
<text x="381.70" y="187.65" font-size="4.0" fill="#222" stroke="#222" stroke-width="0.12">6.0%</text>
<line x1="374.70" y1="191.80" x2="378.70" y2="191.80" stroke="#4058C8" stroke-width="0.7" />
<circle cx="376.7" cy="191.80" r="0.7" fill="#23306E"/>
<text x="381.70" y="193.10" font-size="4.0" fill="#222" stroke="#222" stroke-width="0.12">8.0%</text>
<text x="1.00" y="233.50" font-size="7.3" fill="#111" stroke="#111" stroke-width="0.35" font-weight="bold" font-family='"Liberation Sans", sans-serif'>J</text>
<line x1="16.20" y1="239.30" x2="16.20" y2="285.60" stroke="#333" stroke-width="0.7" />
<line x1="15.20" y1="239.30" x2="16.20" y2="239.30" stroke="#333" stroke-width="0.5" />
<text x="15.00" y="240.35" font-size="3.0" fill="#333" text-anchor="end">100</text>
<line x1="15.20" y1="248.60" x2="16.20" y2="248.60" stroke="#333" stroke-width="0.5" />
<text x="15.00" y="249.65" font-size="3.0" fill="#333" text-anchor="end">80</text>
<line x1="15.20" y1="257.80" x2="16.20" y2="257.80" stroke="#333" stroke-width="0.5" />
<text x="15.00" y="258.85" font-size="3.0" fill="#333" text-anchor="end">60</text>
<line x1="15.20" y1="267.00" x2="16.20" y2="267.00" stroke="#333" stroke-width="0.5" />
<text x="15.00" y="268.05" font-size="3.0" fill="#333" text-anchor="end">40</text>
<line x1="15.20" y1="276.20" x2="16.20" y2="276.20" stroke="#333" stroke-width="0.5" />
<text x="15.00" y="277.25" font-size="3.0" fill="#333" text-anchor="end">20</text>
<line x1="15.20" y1="285.60" x2="16.20" y2="285.60" stroke="#333" stroke-width="0.5" />
<text x="15.00" y="286.65" font-size="3.0" fill="#333" text-anchor="end">0</text>
<line x1="16.20" y1="285.60" x2="73.30" y2="285.60" stroke="#333" stroke-width="0.6" />
<rect x="18.40" y="239.80" width="4.90" height="45.80" fill="#0E7A16" stroke="#063A08" stroke-width="0.6"/>
<text x="20.85" y="236.60" font-size="2.4" fill="#222" text-anchor="middle">a</text>
<rect x="28.12" y="243.80" width="4.90" height="41.80" fill="#0E7A16" stroke="#063A08" stroke-width="0.6"/>
<text x="30.57" y="240.60" font-size="2.4" fill="#222" text-anchor="middle">b</text>
<rect x="37.84" y="247.80" width="4.90" height="37.80" fill="#0E7A16" stroke="#063A08" stroke-width="0.6"/>
<text x="40.29" y="244.60" font-size="2.4" fill="#222" text-anchor="middle">c</text>
<rect x="47.56" y="253.70" width="4.90" height="31.90" fill="#0E7A16" stroke="#063A08" stroke-width="0.6"/>
<text x="50.01" y="250.50" font-size="2.4" fill="#222" text-anchor="middle">d</text>
<rect x="57.28" y="259.60" width="4.90" height="26.00" fill="#0E7A16" stroke="#063A08" stroke-width="0.6"/>
<text x="59.73" y="256.40" font-size="2.4" fill="#222" text-anchor="middle">e</text>
<rect x="67.00" y="265.60" width="4.90" height="20.00" fill="#0E7A16" stroke="#063A08" stroke-width="0.6"/>
<text x="69.45" y="262.40" font-size="2.4" fill="#222" text-anchor="middle">f</text>
<text x="20.85" y="291.40" font-size="3.4" fill="#111" text-anchor="middle" font-family='"Liberation Serif", serif'>0</text>
<text x="30.57" y="291.40" font-size="3.4" fill="#111" text-anchor="middle" font-family='"Liberation Serif", serif'>0.05</text>
<text x="40.29" y="291.40" font-size="3.4" fill="#111" text-anchor="middle" font-family='"Liberation Serif", serif'>0.1</text>
<text x="50.01" y="291.40" font-size="3.4" fill="#111" text-anchor="middle" font-family='"Liberation Serif", serif'>0.2</text>
<text x="59.73" y="291.40" font-size="3.4" fill="#111" text-anchor="middle" font-family='"Liberation Serif", serif'>0.3</text>
<text x="69.45" y="291.40" font-size="3.4" fill="#111" text-anchor="middle" font-family='"Liberation Serif", serif'>0.4</text>
<text x="45.4" y="297.4" font-size="3.95" fill="#111" stroke="#111" stroke-width="0.12" text-anchor="middle" font-family='"Liberation Serif", serif'>Concentration of bile salts (%)</text>
<text x="7.10" y="262.10" font-size="3.4" fill="#222" text-anchor="middle" stroke="#222" stroke-width="0.12" transform="rotate(-90 7.10 262.10)">Survival rate (%)</text>
<text x="87.50" y="233.60" font-size="7.3" fill="#111" stroke="#111" stroke-width="0.35" font-weight="bold" font-family='"Liberation Sans", sans-serif'>K</text>
<line x1="106.60" y1="237.90" x2="106.60" y2="288.40" stroke="#333" stroke-width="0.7" />
<line x1="105.60" y1="237.90" x2="106.60" y2="237.90" stroke="#333" stroke-width="0.5" />
<text x="105.40" y="238.88" font-size="2.8" fill="#222" text-anchor="end">100</text>
<line x1="105.60" y1="248.00" x2="106.60" y2="248.00" stroke="#333" stroke-width="0.5" />
<text x="105.40" y="248.98" font-size="2.8" fill="#222" text-anchor="end">80</text>
<line x1="105.60" y1="258.10" x2="106.60" y2="258.10" stroke="#333" stroke-width="0.5" />
<text x="105.40" y="259.08" font-size="2.8" fill="#222" text-anchor="end">60</text>
<line x1="105.60" y1="268.30" x2="106.60" y2="268.30" stroke="#333" stroke-width="0.5" />
<text x="105.40" y="269.28" font-size="2.8" fill="#222" text-anchor="end">40</text>
<line x1="105.60" y1="278.40" x2="106.60" y2="278.40" stroke="#333" stroke-width="0.5" />
<text x="105.40" y="279.38" font-size="2.8" fill="#222" text-anchor="end">20</text>
<line x1="105.60" y1="288.40" x2="106.60" y2="288.40" stroke="#333" stroke-width="0.5" />
<text x="105.40" y="289.38" font-size="2.8" fill="#222" text-anchor="end">0</text>
<line x1="106.60" y1="288.40" x2="149.00" y2="288.40" stroke="#333" stroke-width="0.6" />
<rect x="113.30" y="247.80" width="6.10" height="40.60" fill="#1B7F99" stroke="#0E4555" stroke-width="0.6"/>
<line x1="116.35" y1="246.30" x2="116.35" y2="247.50" stroke="#222" stroke-width="0.5" />
<line x1="114.67" y1="246.30" x2="118.02" y2="246.30" stroke="#222" stroke-width="0.55" />
<text x="116.35" y="244.60" font-size="2.4" fill="#222" text-anchor="middle">b</text>
<rect x="133.30" y="254.20" width="6.10" height="34.20" fill="#1B7F99" stroke="#0E4555" stroke-width="0.6"/>
<line x1="136.35" y1="252.70" x2="136.35" y2="253.90" stroke="#222" stroke-width="0.5" />
<line x1="134.67" y1="252.70" x2="138.03" y2="252.70" stroke="#222" stroke-width="0.55" />
<text x="136.35" y="251.00" font-size="2.4" fill="#222" text-anchor="middle">c</text>
<rect x="120.50" y="244.30" width="6.10" height="44.10" fill="#F26A16" stroke="#7A3510" stroke-width="0.6"/>
<line x1="123.55" y1="242.80" x2="123.55" y2="244.00" stroke="#222" stroke-width="0.5" />
<line x1="121.88" y1="242.80" x2="125.22" y2="242.80" stroke="#222" stroke-width="0.55" />
<text x="123.55" y="241.10" font-size="2.4" fill="#222" text-anchor="middle">a</text>
<rect x="140.50" y="249.10" width="6.10" height="39.30" fill="#F26A16" stroke="#7A3510" stroke-width="0.6"/>
<line x1="143.55" y1="247.60" x2="143.55" y2="248.80" stroke="#222" stroke-width="0.5" />
<line x1="141.87" y1="247.60" x2="145.22" y2="247.60" stroke="#222" stroke-width="0.55" />
<text x="143.55" y="245.90" font-size="2.4" fill="#222" text-anchor="middle">b</text>
<text x="120.00" y="293.60" font-size="3.3" fill="#222" text-anchor="middle" font-family='"Liberation Serif", serif'>2</text>
<text x="140.20" y="293.60" font-size="3.3" fill="#222" text-anchor="middle" font-family='"Liberation Serif", serif'>4</text>
<text x="129.50" y="298.60" font-size="3.2" fill="#222" text-anchor="middle" font-family='"Liberation Serif", serif'>Time (h)</text>
<text x="98.50" y="265.30" font-size="2.64" fill="#222" text-anchor="middle" stroke="#222" stroke-width="0.1" transform="rotate(-90 98.50 265.30)">Survival rate (%)</text>
<rect x="154.20" y="238.60" width="4.60" height="2.40" fill="#1B6A78" stroke="#0A2A30" stroke-width="0.6"/>
<rect x="154.20" y="244.60" width="4.60" height="2.40" fill="#D8552A" stroke="#5A2010" stroke-width="0.6"/>
<text x="160.90" y="241.40" font-size="3.45" fill="#222" stroke="#222" stroke-width="0.1">Gastric juice</text>
<text x="160.90" y="247.30" font-size="3.45" fill="#222" stroke="#222" stroke-width="0.1">Intestinal juice</text>
<text x="189.70" y="233.50" font-size="7.3" fill="#111" stroke="#111" stroke-width="0.35" font-weight="bold" font-family='"Liberation Sans", sans-serif'>L</text>
<line x1="207.00" y1="237.40" x2="207.00" y2="287.80" stroke="#333" stroke-width="0.7" />
<line x1="206.00" y1="237.40" x2="207.00" y2="237.40" stroke="#333" stroke-width="0.5" />
<text x="205.80" y="238.56" font-size="3.3" fill="#222" text-anchor="end" font-family='"Liberation Serif", serif'>0.8</text>
<line x1="206.00" y1="249.90" x2="207.00" y2="249.90" stroke="#333" stroke-width="0.5" />
<text x="205.80" y="251.06" font-size="3.3" fill="#222" text-anchor="end" font-family='"Liberation Serif", serif'>0.6</text>
<line x1="206.00" y1="262.50" x2="207.00" y2="262.50" stroke="#333" stroke-width="0.5" />
<text x="205.80" y="263.65" font-size="3.3" fill="#222" text-anchor="end" font-family='"Liberation Serif", serif'>0.4</text>
<line x1="206.00" y1="275.10" x2="207.00" y2="275.10" stroke="#333" stroke-width="0.5" />
<text x="205.80" y="276.25" font-size="3.3" fill="#222" text-anchor="end" font-family='"Liberation Serif", serif'>0.2</text>
<line x1="206.00" y1="287.80" x2="207.00" y2="287.80" stroke="#333" stroke-width="0.5" />
<text x="205.80" y="288.95" font-size="3.3" fill="#222" text-anchor="end" font-family='"Liberation Serif", serif'>0.0</text>
<line x1="207.00" y1="287.80" x2="280.50" y2="287.80" stroke="#333" stroke-width="0.6" />
<rect x="208.40" y="252.05" width="6.20" height="35.75" fill="#C8914F" stroke="#6E5C44" stroke-width="0.6"/>
<line x1="211.50" y1="250.55" x2="211.50" y2="251.75" stroke="#222" stroke-width="0.5" />
<line x1="209.80" y1="250.55" x2="213.20" y2="250.55" stroke="#222" stroke-width="0.55" />
<text x="211.50" y="248.85" font-size="2.4" fill="#222" text-anchor="middle">a</text>
<rect x="217.53" y="251.30" width="6.20" height="36.50" fill="#C8914F" stroke="#6E5C44" stroke-width="0.6"/>
<line x1="220.63" y1="249.80" x2="220.63" y2="251.00" stroke="#222" stroke-width="0.5" />
<line x1="218.93" y1="249.80" x2="222.33" y2="249.80" stroke="#222" stroke-width="0.55" />
<text x="220.63" y="248.10" font-size="2.4" fill="#222" text-anchor="middle">a</text>
<rect x="226.66" y="252.05" width="6.20" height="35.75" fill="#C8914F" stroke="#6E5C44" stroke-width="0.6"/>
<line x1="229.76" y1="250.55" x2="229.76" y2="251.75" stroke="#222" stroke-width="0.5" />
<line x1="228.06" y1="250.55" x2="231.46" y2="250.55" stroke="#222" stroke-width="0.55" />
<text x="229.76" y="248.85" font-size="2.4" fill="#222" text-anchor="middle">a</text>
<rect x="235.79" y="252.05" width="6.20" height="35.75" fill="#C8914F" stroke="#6E5C44" stroke-width="0.6"/>
<line x1="238.89" y1="250.55" x2="238.89" y2="251.75" stroke="#222" stroke-width="0.5" />
<line x1="237.19" y1="250.55" x2="240.59" y2="250.55" stroke="#222" stroke-width="0.55" />
<text x="238.89" y="248.85" font-size="2.4" fill="#222" text-anchor="middle">a</text>
<rect x="244.92" y="251.30" width="6.20" height="36.50" fill="#C8914F" stroke="#6E5C44" stroke-width="0.6"/>
<line x1="248.02" y1="249.80" x2="248.02" y2="251.00" stroke="#222" stroke-width="0.5" />
<line x1="246.32" y1="249.80" x2="249.72" y2="249.80" stroke="#222" stroke-width="0.55" />
<text x="248.02" y="248.10" font-size="2.4" fill="#222" text-anchor="middle">a</text>
<rect x="254.05" y="251.30" width="6.20" height="36.50" fill="#C8914F" stroke="#6E5C44" stroke-width="0.6"/>
<line x1="257.15" y1="249.80" x2="257.15" y2="251.00" stroke="#222" stroke-width="0.5" />
<line x1="255.45" y1="249.80" x2="258.85" y2="249.80" stroke="#222" stroke-width="0.55" />
<text x="257.15" y="248.10" font-size="2.4" fill="#222" text-anchor="middle">a</text>
<rect x="263.18" y="251.30" width="6.20" height="36.50" fill="#C8914F" stroke="#6E5C44" stroke-width="0.6"/>
<line x1="266.28" y1="249.80" x2="266.28" y2="251.00" stroke="#222" stroke-width="0.5" />
<line x1="264.58" y1="249.80" x2="267.98" y2="249.80" stroke="#222" stroke-width="0.55" />
<text x="266.28" y="248.10" font-size="2.4" fill="#222" text-anchor="middle">a</text>
<rect x="272.31" y="252.30" width="6.20" height="35.50" fill="#C8914F" stroke="#6E5C44" stroke-width="0.6"/>
<line x1="275.41" y1="250.80" x2="275.41" y2="252.00" stroke="#222" stroke-width="0.5" />
<line x1="273.71" y1="250.80" x2="277.11" y2="250.80" stroke="#222" stroke-width="0.55" />
<text x="275.41" y="249.10" font-size="2.4" fill="#222" text-anchor="middle">a</text>
<text x="211.50" y="292.90" font-size="3.3" fill="#222" text-anchor="middle">2</text>
<text x="220.63" y="292.90" font-size="3.3" fill="#222" text-anchor="middle">4</text>
<text x="229.76" y="292.90" font-size="3.3" fill="#222" text-anchor="middle">6</text>
<text x="238.89" y="292.90" font-size="3.3" fill="#222" text-anchor="middle">8</text>
<text x="248.02" y="292.90" font-size="3.3" fill="#222" text-anchor="middle">10</text>
<text x="257.15" y="292.90" font-size="3.3" fill="#222" text-anchor="middle">12</text>
<text x="266.28" y="292.90" font-size="3.3" fill="#222" text-anchor="middle">14</text>
<text x="275.41" y="292.90" font-size="3.3" fill="#222" text-anchor="middle">16</text>
<text x="243.20" y="298.90" font-size="3.05" fill="#222" text-anchor="middle" stroke="#222" stroke-width="0.1">Passage number (generation)</text>
<text x="198.60" y="265.90" font-size="2.76" fill="#222" text-anchor="middle" font-family='"Liberation Serif", serif' stroke="#222" stroke-width="0.1" transform="rotate(-90 198.60 265.90)">The amount of peptide (mg/mL)</text>
<text x="293.60" y="233.60" font-size="7.3" fill="#111" stroke="#111" stroke-width="0.35" font-weight="bold" font-family='"Liberation Sans", sans-serif'>M</text>
<line x1="313.30" y1="238.00" x2="313.30" y2="288.00" stroke="#333" stroke-width="0.7" />
<line x1="312.30" y1="238.00" x2="313.30" y2="238.00" stroke="#333" stroke-width="0.5" />
<text x="312.10" y="239.16" font-size="3.3" fill="#222" text-anchor="end" font-family='"Liberation Serif", serif'>0.4</text>
<line x1="312.30" y1="250.50" x2="313.30" y2="250.50" stroke="#333" stroke-width="0.5" />
<text x="312.10" y="251.66" font-size="3.3" fill="#222" text-anchor="end" font-family='"Liberation Serif", serif'>0.3</text>
<line x1="312.30" y1="263.00" x2="313.30" y2="263.00" stroke="#333" stroke-width="0.5" />
<text x="312.10" y="264.15" font-size="3.3" fill="#222" text-anchor="end" font-family='"Liberation Serif", serif'>0.2</text>
<line x1="312.30" y1="275.50" x2="313.30" y2="275.50" stroke="#333" stroke-width="0.5" />
<text x="312.10" y="276.65" font-size="3.3" fill="#222" text-anchor="end" font-family='"Liberation Serif", serif'>0.1</text>
<line x1="312.30" y1="288.00" x2="313.30" y2="288.00" stroke="#333" stroke-width="0.5" />
<text x="312.10" y="289.15" font-size="3.3" fill="#222" text-anchor="end" font-family='"Liberation Serif", serif'>0.0</text>
<line x1="313.30" y1="288.00" x2="381.00" y2="288.00" stroke="#333" stroke-width="0.6" />
<rect x="314.60" y="243.55" width="5.70" height="44.45" fill="#C8914F" stroke="#6E5C44" stroke-width="0.6"/>
<line x1="317.45" y1="242.05" x2="317.45" y2="243.25" stroke="#222" stroke-width="0.5" />
<line x1="315.88" y1="242.05" x2="319.02" y2="242.05" stroke="#222" stroke-width="0.55" />
<text x="317.45" y="240.35" font-size="2.4" fill="#222" text-anchor="middle">a</text>
<rect x="323.00" y="243.80" width="5.70" height="44.20" fill="#C8914F" stroke="#6E5C44" stroke-width="0.6"/>
<line x1="325.85" y1="242.30" x2="325.85" y2="243.50" stroke="#222" stroke-width="0.5" />
<line x1="324.27" y1="242.30" x2="327.42" y2="242.30" stroke="#222" stroke-width="0.55" />
<text x="325.85" y="240.60" font-size="2.4" fill="#222" text-anchor="middle">a</text>
<rect x="331.40" y="243.55" width="5.70" height="44.45" fill="#C8914F" stroke="#6E5C44" stroke-width="0.6"/>
<line x1="334.25" y1="242.05" x2="334.25" y2="243.25" stroke="#222" stroke-width="0.5" />
<line x1="332.68" y1="242.05" x2="335.82" y2="242.05" stroke="#222" stroke-width="0.55" />
<text x="334.25" y="240.35" font-size="2.4" fill="#222" text-anchor="middle">a</text>
<rect x="339.80" y="244.05" width="5.70" height="43.95" fill="#C8914F" stroke="#6E5C44" stroke-width="0.6"/>
<line x1="342.65" y1="242.55" x2="342.65" y2="243.75" stroke="#222" stroke-width="0.5" />
<line x1="341.07" y1="242.55" x2="344.22" y2="242.55" stroke="#222" stroke-width="0.55" />
<text x="342.65" y="240.85" font-size="2.4" fill="#222" text-anchor="middle">a</text>
<rect x="348.20" y="244.30" width="5.70" height="43.70" fill="#C8914F" stroke="#6E5C44" stroke-width="0.6"/>
<line x1="351.05" y1="242.80" x2="351.05" y2="244.00" stroke="#222" stroke-width="0.5" />
<line x1="349.48" y1="242.80" x2="352.62" y2="242.80" stroke="#222" stroke-width="0.55" />
<text x="351.05" y="241.10" font-size="2.4" fill="#222" text-anchor="middle">a</text>
<rect x="356.60" y="243.80" width="5.70" height="44.20" fill="#C8914F" stroke="#6E5C44" stroke-width="0.6"/>
<line x1="359.45" y1="242.30" x2="359.45" y2="243.50" stroke="#222" stroke-width="0.5" />
<line x1="357.88" y1="242.30" x2="361.02" y2="242.30" stroke="#222" stroke-width="0.55" />
<text x="359.45" y="240.60" font-size="2.4" fill="#222" text-anchor="middle">a</text>
<rect x="365.00" y="243.55" width="5.70" height="44.45" fill="#C8914F" stroke="#6E5C44" stroke-width="0.6"/>
<line x1="367.85" y1="242.05" x2="367.85" y2="243.25" stroke="#222" stroke-width="0.5" />
<line x1="366.28" y1="242.05" x2="369.43" y2="242.05" stroke="#222" stroke-width="0.55" />
<text x="367.85" y="240.35" font-size="2.4" fill="#222" text-anchor="middle">a</text>
<rect x="373.40" y="243.80" width="5.70" height="44.20" fill="#C8914F" stroke="#6E5C44" stroke-width="0.6"/>
<line x1="376.25" y1="242.30" x2="376.25" y2="243.50" stroke="#222" stroke-width="0.5" />
<line x1="374.68" y1="242.30" x2="377.82" y2="242.30" stroke="#222" stroke-width="0.55" />
<text x="376.25" y="240.60" font-size="2.4" fill="#222" text-anchor="middle">a</text>
<text x="317.45" y="292.90" font-size="3.3" fill="#222" text-anchor="middle">2</text>
<text x="325.85" y="292.90" font-size="3.3" fill="#222" text-anchor="middle">4</text>
<text x="334.25" y="292.90" font-size="3.3" fill="#222" text-anchor="middle">6</text>
<text x="342.65" y="292.90" font-size="3.3" fill="#222" text-anchor="middle">8</text>
<text x="351.05" y="292.90" font-size="3.3" fill="#222" text-anchor="middle">10</text>
<text x="359.45" y="292.90" font-size="3.3" fill="#222" text-anchor="middle">12</text>
<text x="367.85" y="292.90" font-size="3.3" fill="#222" text-anchor="middle">14</text>
<text x="376.25" y="292.90" font-size="3.3" fill="#222" text-anchor="middle">16</text>
<text x="346.80" y="298.90" font-size="3.2" fill="#222" text-anchor="middle" stroke="#222" stroke-width="0.1">Passage number (generation)</text>
<text x="303.70" y="259.40" font-size="3.05" fill="#222" text-anchor="middle" font-family='"Liberation Serif", serif' stroke="#222" stroke-width="0.1" transform="rotate(-90 303.70 259.40)">TEAC (mmol/L)</text>
</svg>
</body></html>
